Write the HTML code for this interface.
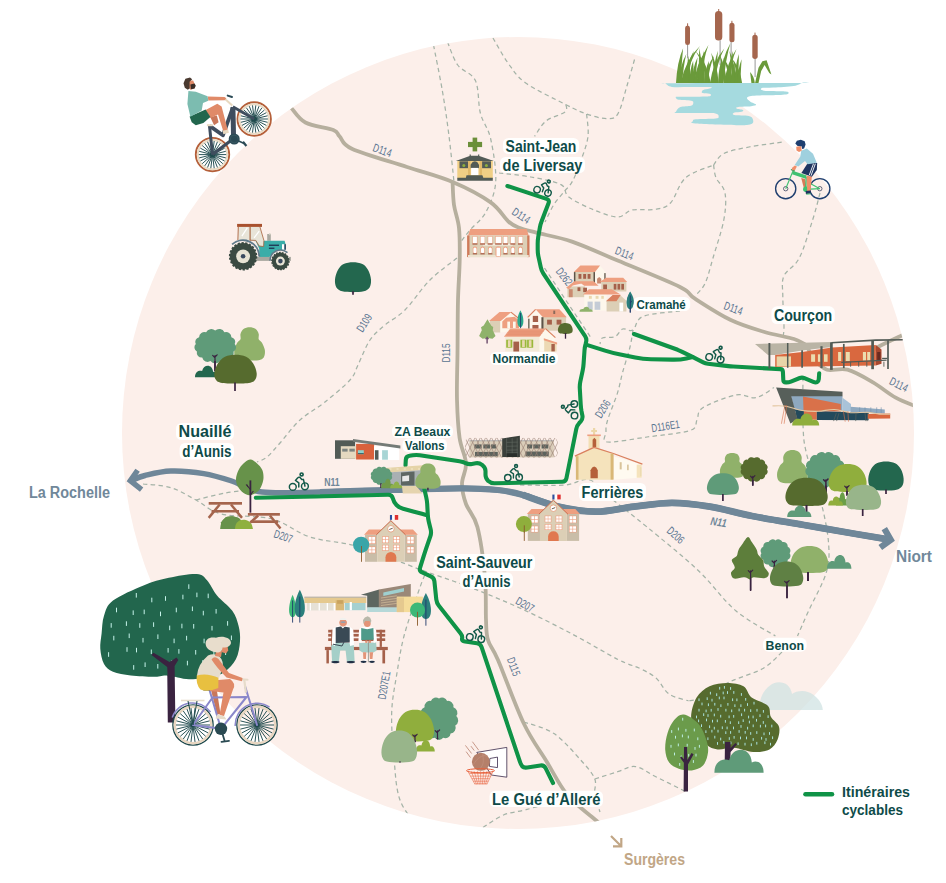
<!DOCTYPE html>
<html lang="fr"><head><meta charset="utf-8"><title>Itinéraires cyclables</title>
<style>
html,body{margin:0;padding:0;background:#fff}
body{width:946px;height:883px;overflow:hidden}
svg{display:block;font-family:"Liberation Sans", sans-serif}
</style></head><body>
<svg width="946" height="883" viewBox="0 0 946 883">
<defs><clipPath id="cc"><circle cx="518" cy="433" r="396"/></clipPath></defs>
<circle cx="518" cy="433" r="396" fill="#fcefea"/>
<g clip-path="url(#cc)">
<path d="M433.5,45.0 C435.0,52.7 439.8,75.8 442.4,91.0 C445.0,106.2 447.1,120.8 449.0,136.0 C450.9,151.2 453.2,174.3 454.0,182.0" fill="none" stroke="#a4b3a7" stroke-width="1.25" stroke-dasharray="4.4 3.4"/>
<path d="M447.5,42.0 C449.2,45.8 453.1,58.6 457.7,65.0 C462.3,71.4 471.6,72.5 475.4,80.6 C479.2,88.7 477.9,103.9 480.5,113.6 C483.1,123.3 488.2,127.6 490.7,139.0 C493.2,150.4 496.5,169.7 495.7,182.0 C494.9,194.3 489.9,204.6 485.6,212.6 C481.3,220.6 474.3,224.9 470.0,230.0 C465.7,235.1 461.7,240.8 460.0,243.0" fill="none" stroke="#a4b3a7" stroke-width="1.25" stroke-dasharray="4.4 3.4"/>
<path d="M493.0,38.0 C495.5,42.2 502.6,55.5 508.0,63.0 C513.5,70.5 516.0,76.0 525.7,83.0 C535.4,90.0 555.9,99.5 566.0,104.7 C576.1,109.9 579.8,111.7 586.6,114.0 C593.4,116.3 601.8,118.8 607.0,118.7 C612.2,118.6 614.7,119.1 618.0,113.6 C621.3,108.1 624.2,95.0 627.0,85.7 C629.8,76.4 633.7,62.4 635.0,57.8" fill="none" stroke="#a4b3a7" stroke-width="1.25" stroke-dasharray="4.4 3.4"/>
<path d="M566.0,104.7 C565.8,105.9 568.3,109.3 565.0,112.0 C561.7,114.7 551.1,116.9 546.0,121.0 C540.9,125.1 536.5,133.8 534.6,136.4" fill="none" stroke="#a4b3a7" stroke-width="1.25" stroke-dasharray="4.4 3.4"/>
<path d="M586.6,114.0 C586.8,117.7 588.9,128.9 588.0,136.4 C587.1,143.9 584.1,151.6 581.5,159.0 C578.9,166.4 575.6,175.5 572.6,181.0 C569.6,186.5 567.0,188.0 563.8,192.0 C560.6,196.0 556.7,200.0 553.6,205.0 C550.5,210.0 546.4,219.2 545.0,222.0" fill="none" stroke="#a4b3a7" stroke-width="1.25" stroke-dasharray="4.4 3.4"/>
<path d="M499.0,173.0 C504.3,173.7 520.7,175.1 531.0,177.0 C541.3,178.9 554.7,181.3 561.0,184.6 C567.3,187.9 563.3,192.8 568.8,197.0 C574.3,201.2 585.8,206.7 594.0,210.0 C602.2,213.3 611.7,217.0 618.0,217.0 C624.3,217.0 625.8,211.3 632.0,210.0 C638.2,208.7 648.6,210.6 655.0,209.4 C661.4,208.2 665.4,208.3 670.5,203.0 C675.6,197.7 678.5,184.0 685.7,177.7 C692.9,171.4 709.0,167.1 713.6,165.0" fill="none" stroke="#a4b3a7" stroke-width="1.25" stroke-dasharray="4.4 3.4"/>
<path d="M713.6,165.0 C715.3,163.1 717.9,156.5 723.8,153.5 C729.7,150.5 739.1,148.9 749.0,147.0 C758.9,145.1 777.7,142.8 783.4,142.0" fill="none" stroke="#a4b3a7" stroke-width="1.25" stroke-dasharray="4.4 3.4"/>
<path d="M713.6,165.0 C714.0,167.1 714.1,173.0 716.0,177.7 C717.9,182.4 723.7,185.9 725.0,193.0 C726.3,200.1 725.8,209.2 723.8,220.0 C721.8,230.8 716.1,247.4 713.0,258.0 C709.9,268.6 708.0,277.2 705.0,283.5 C702.0,289.8 696.7,293.9 695.0,296.0" fill="none" stroke="#a4b3a7" stroke-width="1.25" stroke-dasharray="4.4 3.4"/>
<path d="M820.0,193.0 C818.8,197.5 816.1,209.2 812.6,220.0 C809.1,230.8 804.1,248.7 799.3,258.0 C794.5,267.3 786.8,269.5 784.0,275.8 C781.2,282.1 782.8,287.5 782.8,296.0 C782.8,304.5 784.0,319.6 784.0,326.6 C784.0,333.6 783.0,336.1 782.8,338.0" fill="none" stroke="#a4b3a7" stroke-width="1.25" stroke-dasharray="4.4 3.4"/>
<path d="M544.5,268.0 L567.0,302.0 L590.5,337.0" fill="none" stroke="#a4b3a7" stroke-width="1.25" stroke-dasharray="4.4 3.4"/>
<path d="M457.0,258.0 C452.5,261.7 438.7,271.3 430.0,280.0 C421.3,288.7 412.5,302.5 405.0,310.0 C397.5,317.5 390.8,320.0 385.0,325.0 C379.2,330.0 374.5,333.3 370.0,340.0 C365.5,346.7 361.3,358.3 358.0,365.0 C354.7,371.7 355.5,373.8 350.0,380.0 C344.5,386.2 333.3,395.3 325.0,402.0 C316.7,408.7 307.5,413.2 300.0,420.0 C292.5,426.8 285.5,436.8 280.0,443.0 C274.5,449.2 270.8,453.8 267.0,457.0 C263.2,460.2 258.7,461.2 257.0,462.0" fill="none" stroke="#a4b3a7" stroke-width="1.25" stroke-dasharray="4.4 3.4"/>
<path d="M143.0,484.0 C147.6,484.6 162.0,484.9 170.8,487.6 C179.6,490.3 187.6,495.6 196.0,500.0 C204.4,504.4 208.8,510.8 221.5,514.0 C234.2,517.2 257.2,515.2 272.0,519.0 C286.8,522.8 295.3,532.3 310.0,537.0 C324.7,541.7 341.4,541.5 360.0,547.0 C378.6,552.5 402.8,563.2 421.5,570.0 C440.2,576.8 455.1,581.4 472.0,588.0 C488.9,594.6 506.2,601.8 523.0,609.5 C539.8,617.2 557.2,626.2 573.0,634.5 C588.8,642.8 606.8,653.8 618.0,659.5 C629.2,665.2 633.7,665.4 640.0,668.5 C646.3,671.6 651.2,673.8 656.0,678.0 C660.8,682.2 663.6,690.2 669.0,694.0 C674.4,697.8 685.2,699.8 688.5,700.9" fill="none" stroke="#a4b3a7" stroke-width="1.25" stroke-dasharray="4.4 3.4"/>
<path d="M196.0,500.0 C200.8,498.8 215.7,494.7 225.0,493.0 C234.3,491.3 247.5,490.5 252.0,490.0" fill="none" stroke="#a4b3a7" stroke-width="1.25" stroke-dasharray="4.4 3.4"/>
<path d="M680.0,311.0 C673.8,311.9 650.8,313.2 643.0,316.4 C635.2,319.6 636.4,327.9 633.0,330.0 C629.6,332.1 625.7,327.9 622.7,329.0 C619.7,330.1 618.4,335.2 615.0,336.7 C611.6,338.2 604.9,336.8 602.4,338.0 C599.9,339.2 600.4,343.0 600.0,344.0" fill="none" stroke="#a4b3a7" stroke-width="1.25" stroke-dasharray="4.4 3.4"/>
<path d="M633.0,330.0 C632.5,332.8 631.7,340.0 630.0,347.0 C628.3,354.0 624.8,364.4 622.7,372.0 C620.6,379.6 620.1,384.5 617.6,392.6 C615.1,400.7 609.4,413.9 607.5,420.5 C605.6,427.1 606.0,428.4 606.0,432.0 C606.0,435.6 600.8,441.2 607.6,442.0 C614.4,442.8 633.3,438.9 647.0,437.0 C660.7,435.1 681.7,433.3 690.0,430.5 C698.3,427.7 694.9,423.8 697.0,420.0 C699.1,416.2 696.3,412.0 702.8,407.8 C709.3,403.6 726.9,396.7 735.8,395.0 C744.7,393.3 749.6,398.9 756.0,397.7 C762.4,396.4 771.0,389.2 774.0,387.5" fill="none" stroke="#a4b3a7" stroke-width="1.25" stroke-dasharray="4.4 3.4"/>
<path d="M803.0,377.0 C803.0,385.0 802.4,412.2 803.0,425.0 C803.6,437.8 803.4,440.5 806.6,454.0 C809.8,467.5 818.3,490.8 822.0,506.0 C825.7,521.2 828.0,533.8 828.7,545.0 C829.4,556.2 829.3,562.6 826.0,573.4 C822.7,584.2 813.8,599.6 809.0,610.0 C804.2,620.4 799.4,631.7 797.5,636.0" fill="none" stroke="#a4b3a7" stroke-width="1.25" stroke-dasharray="4.4 3.4"/>
<path d="M520.0,485.0 C527.5,485.0 553.3,485.8 565.0,485.0 C576.7,484.2 581.7,477.2 590.0,480.0 C598.3,482.8 605.5,493.7 615.0,501.5 C624.5,509.3 633.2,515.6 647.0,527.0 C660.8,538.4 682.9,556.0 697.7,570.0 C712.5,584.0 722.8,599.7 735.8,610.7 C748.8,621.7 768.8,631.8 775.4,636.0" fill="none" stroke="#a4b3a7" stroke-width="1.25" stroke-dasharray="4.4 3.4"/>
<path d="M782.0,652.0 C778.8,654.8 771.6,663.6 763.0,668.5 C754.4,673.4 741.1,676.6 730.6,681.5 C720.1,686.4 707.0,694.8 700.0,698.0 C693.0,701.2 690.4,700.4 688.5,700.9" fill="none" stroke="#a4b3a7" stroke-width="1.25" stroke-dasharray="4.4 3.4"/>
<path d="M523.8,722.0 C528.8,723.9 544.3,727.0 554.0,733.6 C563.7,740.2 575.2,753.9 582.0,761.5 C588.8,769.1 592.7,773.5 594.8,779.0 C596.9,784.5 593.9,789.0 594.8,794.5 C595.7,800.0 599.1,809.1 600.0,812.0" fill="none" stroke="#a4b3a7" stroke-width="1.25" stroke-dasharray="4.4 3.4"/>
<path d="M594.8,779.0 C598.6,777.8 610.9,773.8 617.7,771.7 C624.5,769.6 629.0,765.8 635.4,766.6 C641.8,767.4 648.0,772.8 655.8,776.7 C663.6,780.6 674.6,785.9 682.0,789.8 C689.4,793.7 697.0,798.3 700.0,800.0" fill="none" stroke="#a4b3a7" stroke-width="1.25" stroke-dasharray="4.4 3.4"/>
<path d="M483.0,827.5 C486.4,825.4 496.3,818.0 503.5,815.0 C510.7,812.0 516.6,812.2 526.0,809.7 C535.4,807.2 554.3,801.6 560.0,800.0" fill="none" stroke="#a4b3a7" stroke-width="1.25" stroke-dasharray="4.4 3.4"/>
<path d="M424.7,575.0 C423.6,578.0 421.4,582.8 418.0,593.0 C414.6,603.2 407.5,622.5 404.0,636.0 C400.5,649.5 398.9,661.3 396.8,674.0 C394.8,686.7 392.2,698.0 391.7,712.0 C391.2,726.0 392.6,743.3 394.0,758.0 C395.4,772.7 395.7,788.0 400.0,800.0 C404.3,812.0 416.7,825.0 420.0,830.0" fill="none" stroke="#a4b3a7" stroke-width="1.25" stroke-dasharray="4.4 3.4"/>
<path d="M291.4,108.0 C293.7,110.4 298.4,118.8 305.4,122.5 C312.4,126.2 327.6,127.7 333.3,130.0 C339.0,132.3 336.4,133.2 339.6,136.4 C342.8,139.6 341.1,143.9 352.3,149.0 C363.5,154.1 390.3,161.5 407.0,167.0 C423.7,172.5 438.7,176.1 452.6,182.0 C466.6,187.9 481.4,195.8 490.7,202.4 C500.0,209.0 503.5,217.2 508.4,221.5 C513.3,225.8 515.3,226.1 520.0,228.0 C524.7,229.9 527.7,230.4 536.4,232.7 C545.1,235.0 558.5,236.9 572.0,241.6 C585.5,246.2 599.7,253.0 617.7,260.6 C635.7,268.2 667.1,280.6 680.0,287.0 C692.9,293.4 686.5,293.2 695.0,298.7 C703.5,304.2 719.3,314.5 730.8,320.0 C742.3,325.5 753.3,328.5 763.8,331.7 C774.3,334.9 787.0,336.8 794.0,339.0 C801.0,341.2 804.0,344.0 806.0,345.0" fill="none" stroke="#b6af9e" stroke-width="3.8" stroke-linecap="butt" stroke-linejoin="round"/>
<path d="M806.0,345.0 C807.5,347.5 811.5,355.9 815.0,360.0 C818.5,364.1 821.6,368.1 827.0,369.7 C832.4,371.3 839.8,367.6 847.5,369.7 C855.2,371.8 865.0,377.7 873.0,382.4 C881.0,387.1 888.7,393.8 895.7,397.7 C902.7,401.6 911.8,404.6 915.0,406.0" fill="none" stroke="#b6af9e" stroke-width="3.8" stroke-linecap="butt" stroke-linejoin="round"/>
<path d="M860.0,358.0 C863.0,356.2 870.5,351.0 878.0,347.0 C885.5,343.0 900.5,336.2 905.0,334.0" fill="none" stroke="#b6af9e" stroke-width="3.8" stroke-linecap="butt" stroke-linejoin="round"/>
<path d="M452.6,182.0 C452.8,185.8 452.9,197.3 454.0,205.0 C455.1,212.7 458.1,218.8 459.0,228.0 C459.9,237.2 459.9,248.0 459.7,260.0 C459.5,272.0 458.4,284.5 458.0,300.0 C457.6,315.5 457.7,336.3 457.5,353.0 C457.3,369.7 456.6,385.8 457.0,400.0 C457.4,414.2 458.1,427.4 459.6,438.0 C461.1,448.6 465.6,455.9 466.0,463.5 C466.4,471.1 462.0,477.1 462.0,483.8 C462.0,490.6 463.4,496.8 466.0,504.0 C468.6,511.2 474.2,514.7 477.4,527.0 C480.6,539.3 483.6,562.2 485.0,577.7 C486.4,593.2 485.5,609.6 486.0,620.0 C486.5,630.4 486.0,633.3 488.0,640.0 C490.0,646.7 492.0,646.1 498.0,660.0 C504.0,673.9 515.7,706.6 523.8,723.5 C531.9,740.4 539.4,749.7 546.6,761.5 C553.8,773.3 559.4,785.2 567.0,794.5 C574.6,803.8 586.0,811.8 592.0,817.0 C598.0,822.2 601.2,824.5 603.0,826.0" fill="none" stroke="#b6af9e" stroke-width="3.8" stroke-linecap="butt" stroke-linejoin="round"/>
<path d="M131.5,480.5 C133.8,479.7 138.4,477.1 145.0,475.5 C151.6,473.9 161.0,471.3 170.8,471.0 C180.6,470.7 193.7,471.9 203.8,473.6 C214.0,475.3 222.0,477.9 231.7,481.0 C241.4,484.1 247.3,490.2 262.0,492.0 C276.7,493.8 298.5,492.3 320.0,492.0 C341.5,491.7 367.3,490.6 391.0,490.0 C414.7,489.4 444.2,488.3 462.0,488.3 C479.8,488.3 487.5,488.9 497.7,490.0 C507.9,491.1 513.0,492.2 523.0,495.0 C533.0,497.8 545.8,503.8 558.0,506.6 C570.2,509.4 583.3,511.7 596.0,511.7 C608.7,511.7 621.3,508.1 634.0,506.6 C646.7,505.1 659.3,502.8 672.0,502.8 C684.7,502.8 696.7,504.4 710.0,506.6 C723.3,508.8 736.3,512.9 752.0,516.0 C767.7,519.1 786.7,522.0 804.0,525.0 C821.3,528.0 841.8,531.6 856.0,534.0 C870.2,536.4 883.9,538.7 889.5,539.6" fill="none" stroke="#6f8799" stroke-width="5.5" stroke-linecap="butt" stroke-linejoin="round"/>
<path d="M320.0,492.0 C331.8,491.7 367.3,490.6 391.0,490.0 C414.7,489.4 444.2,488.3 462.0,488.3 C479.8,488.3 487.5,488.9 497.7,490.0 C507.9,491.1 513.0,492.2 523.0,495.0 C533.0,497.8 545.8,503.8 558.0,506.6 C570.2,509.4 583.3,511.7 596.0,511.7 C608.7,511.7 621.3,508.1 634.0,506.6 C646.7,505.1 659.3,502.8 672.0,502.8 C684.7,502.8 696.7,504.4 710.0,506.6 C723.3,508.8 736.3,512.9 752.0,516.0 C767.7,519.1 786.7,522.0 804.0,525.0 C821.3,528.0 841.8,531.6 856.0,534.0 C870.2,536.4 883.9,538.7 889.5,539.6" fill="none" stroke="#6f8799" stroke-width="6.2" stroke-linecap="butt" stroke-linejoin="round"/>
<path d="M523.0,495.0 C528.8,496.9 545.8,503.8 558.0,506.6 C570.2,509.4 583.3,511.7 596.0,511.7 C608.7,511.7 621.3,508.1 634.0,506.6 C646.7,505.1 659.3,502.8 672.0,502.8 C684.7,502.8 696.7,504.4 710.0,506.6 C723.3,508.8 736.3,512.9 752.0,516.0 C767.7,519.1 786.7,522.0 804.0,525.0 C821.3,528.0 841.8,531.6 856.0,534.0 C870.2,536.4 883.9,538.7 889.5,539.6" fill="none" stroke="#6f8799" stroke-width="6.8" stroke-linecap="butt" stroke-linejoin="round"/>
<path d="M137.6,470.2 L130.3,480.6 L141.6,489.6" fill="none" stroke="#6f8799" stroke-width="5.4" stroke-linejoin="miter"/>
<path d="M884.3,528.6 L890.8,539.8 L880.3,547.4" fill="none" stroke="#6f8799" stroke-width="6.2" stroke-linejoin="miter"/>
<path d="M507.4,186.0 L546.5,198.9 Q549.8,200.0 548.5,203.3 L541.8,220.7 Q540.5,224.0 539.9,227.4 L538.3,236.6 Q537.7,240.0 537.7,243.5 L537.7,249.5 Q537.7,253.0 538.4,256.4 L540.8,267.4 Q541.5,270.8 543.4,273.7 L585.1,336.1 Q587.0,339.0 586.0,342.4 L585.7,343.6 Q584.7,347.0 584.5,350.5 L583.6,363.5 Q583.4,367.0 582.7,370.4 L580.3,381.6 Q579.6,385.0 579.8,388.5 L580.7,404.3 Q580.9,407.8 581.5,411.2 L582.4,415.6 Q583.0,419.0 580.6,421.6 L579.4,422.8 Q577.0,425.4 576.3,428.8 L566.4,478.3 Q565.7,481.7 562.2,481.8 L494.5,483.3 Q491.0,483.4 488.4,481.0 L488.2,480.9 Q485.6,478.5 485.5,475.0 L485.5,471.0 Q485.4,467.5 482.6,465.4 L482.0,464.8 Q479.2,462.7 475.7,463.3 L471.9,463.9 Q468.4,464.5 465.7,463.1 L465.7,463.2 Q463.0,461.8 459.5,461.3 L419.8,455.2 Q416.3,454.7 412.8,455.2 L409.5,455.8 Q406.0,456.3 405.8,459.8 L405.5,465.4" fill="none" stroke="#0f9347" stroke-width="4.1" stroke-linecap="round" stroke-linejoin="round"/>
<path d="M586.0,344.6 L605.0,350.6 Q612.6,353.0 620.4,354.5 L635.2,357.5 Q643.0,359.0 651.0,359.2 L672.0,359.6 Q680.0,359.8 686.4,358.4 L692.7,357.0" fill="none" stroke="#0f9347" stroke-width="4.1" stroke-linecap="round" stroke-linejoin="round"/>
<path d="M634.0,334.0 L677.7,349.8 Q680.0,350.7 682.2,351.8 L690.5,355.9 Q692.7,357.0 694.9,358.1 L703.2,362.3 Q705.4,363.4 707.9,363.7 L728.3,366.1 Q730.8,366.4 733.3,366.5 L766.3,368.4 Q768.8,368.5 771.3,368.6 L780.3,369.1 Q782.8,369.2 782.9,371.7 L783.3,379.8 Q783.4,382.3 785.9,382.4 L786.1,382.4 Q788.6,382.5 790.9,381.6 L799.8,378.0 Q802.1,377.1 804.4,378.1 L813.3,381.9 Q815.6,382.9 817.1,382.2 L817.1,382.2 Q818.6,381.5 818.8,379.0 L819.2,373.2" fill="none" stroke="#0f9347" stroke-width="4.1" stroke-linecap="round" stroke-linejoin="round"/>
<path d="M255.8,497.7 L316.0,496.5 Q320.0,496.4 324.0,496.3 L388.0,494.7 Q392.0,494.6 392.9,498.5 L392.9,498.5 Q393.8,502.3 396.5,505.0 L396.5,505.0 Q399.2,507.7 403.1,508.7 L414.1,511.7 Q418.0,512.7 421.9,513.8 L427.0,515.2" fill="none" stroke="#0f9347" stroke-width="4.1" stroke-linecap="round" stroke-linejoin="round"/>
<path d="M424.3,488.8 L426.2,497.1 Q427.0,500.5 427.2,504.0 L427.8,514.9 Q428.0,518.4 428.8,521.8 L430.7,529.4 Q431.5,532.8 430.4,536.1 L426.1,548.7 Q425.0,552.0 423.9,555.3 L420.1,567.7 Q419.0,571.0 422.2,572.4 L430.8,576.3 Q434.0,577.7 434.4,581.2 L436.3,599.5 Q436.7,603.0 438.9,605.7 L460.5,633.3 Q462.7,636.0 462.1,638.5 L462.1,638.5 Q461.5,641.0 465.0,641.5 L477.0,643.3 Q480.5,643.8 481.6,647.1 L519.9,761.7 Q521.0,765.0 522.4,766.5 L522.4,766.5 Q523.8,768.0 527.3,767.5 L540.5,765.5 Q544.0,765.0 545.6,768.1 L553.0,783.0" fill="none" stroke="#0f9347" stroke-width="4.1" stroke-linecap="round" stroke-linejoin="round"/>
</g>
<path d="M353.0,262.2 C356.1,262.2 359.8,262.7 362.4,264.0 C364.9,265.3 366.7,267.4 368.1,270.0 C369.6,272.6 370.8,276.7 371.0,279.6 C371.2,282.5 370.8,285.4 369.6,287.4 C368.4,289.3 366.6,290.5 363.8,291.3 C361.0,292.1 356.6,292.2 353.0,292.2 C349.4,292.2 345.0,292.1 342.2,291.3 C339.4,290.5 337.6,289.3 336.4,287.4 C335.2,285.4 334.8,282.5 335.0,279.6 C335.2,276.7 336.4,272.6 337.9,270.0 C339.3,267.4 341.1,265.3 343.6,264.0 C346.2,262.7 349.9,262.2 353.0,262.2Z" fill="#23674e"/>
<path d="M353.0,291.2 V294.8" stroke="#3a2340" stroke-width="1.7"/>
<path d="M249.6,327.2 C251.6,327.2 254.2,327.8 255.7,328.9 C257.2,330.0 258.2,332.1 258.7,333.9 C259.2,335.6 258.2,337.7 258.7,339.2 C259.2,340.6 260.7,340.7 261.8,342.5 C262.8,344.3 264.4,347.4 264.8,349.8 C265.2,352.3 264.9,355.4 263.9,357.2 C262.9,358.9 261.1,359.6 258.7,360.2 C256.3,360.7 252.6,360.5 249.6,360.5 C246.6,360.5 242.9,360.7 240.5,360.2 C238.1,359.6 236.3,358.9 235.3,357.2 C234.3,355.4 234.0,352.3 234.4,349.8 C234.8,347.4 236.4,344.3 237.4,342.5 C238.5,340.7 240.0,340.6 240.5,339.2 C241.0,337.7 240.0,335.6 240.5,333.9 C241.0,332.1 242.0,330.0 243.5,328.9 C245.0,327.8 247.6,327.2 249.6,327.2Z" fill="#90b16a"/>
<path d="M248.0,359.5 V362.5" stroke="#3a2340" stroke-width="1.7"/>
<path d="M215.2,330.5 A5.8,5.8 0 0 1 224.4,332.3 A5.3,5.3 0 0 1 231.4,337.2 A4.8,4.8 0 0 1 234.7,344.1 A4.6,4.6 0 0 1 233.6,351.5 A5.0,5.0 0 0 1 228.3,357.6 A5.6,5.6 0 0 1 220.0,361.1 A5.8,5.8 0 0 1 210.5,361.1 A5.6,5.6 0 0 1 202.2,357.6 A5.0,5.0 0 0 1 196.9,351.5 A4.6,4.6 0 0 1 195.8,344.1 A4.8,4.8 0 0 1 199.1,337.2 A5.3,5.3 0 0 1 206.1,332.3 A5.8,5.8 0 0 1 215.2,330.5Z" fill="#5f9b79"/>
<path d="M215.0,355.6 V371.0 M215.0,357.8 l-2.3,-2.4 M215.0,357.0 l2.1,-2.2" stroke="#3a2340" stroke-width="1.2" fill="none" stroke-linecap="round"/>
<path d="M215.0,361.0 V371.0" stroke="#3a2340" stroke-width="1.7"/>
<path d="M195.0,377.2 C195.0,370.9 199.8,370.1 202.1,371.1 C203.6,363.9 212.6,363.9 213.1,372.1 C215.9,370.9 218.8,372.6 218.8,377.2 Z" fill="#23674e"/>
<path d="M235.5,354.8 C239.0,354.8 243.1,355.4 246.1,356.8 C249.0,358.3 251.5,360.8 253.2,363.4 C255.0,366.1 256.2,370.0 256.6,372.7 C257.0,375.3 256.4,377.9 255.3,379.6 C254.3,381.2 253.6,382.1 250.3,382.7 C247.0,383.4 240.4,383.6 235.5,383.6 C230.6,383.6 224.0,383.4 220.7,382.7 C217.4,382.1 216.7,381.2 215.7,379.6 C214.6,377.9 214.0,375.3 214.4,372.7 C214.8,370.0 216.0,366.1 217.8,363.4 C219.5,360.8 222.0,358.3 225.0,356.8 C227.9,355.4 232.0,354.8 235.5,354.8Z" fill="#566b2e"/>
<path d="M235.0,382.6 V391.0" stroke="#3a2340" stroke-width="1.7"/>
<path d="M732.2,452.9 C733.8,452.9 735.9,453.3 737.1,454.1 C738.3,455.0 739.1,456.6 739.5,457.9 C739.9,459.1 739.1,460.8 739.5,461.8 C739.9,462.9 741.1,463.0 742.0,464.3 C742.8,465.6 744.1,467.9 744.4,469.8 C744.7,471.6 744.5,473.9 743.7,475.2 C742.9,476.5 741.4,477.0 739.5,477.5 C737.6,477.9 734.6,477.7 732.2,477.7 C729.8,477.7 726.8,477.9 724.9,477.5 C723.0,477.0 721.5,476.5 720.7,475.2 C719.9,473.9 719.7,471.6 720.0,469.8 C720.3,467.9 721.6,465.6 722.4,464.3 C723.3,463.0 724.5,462.9 724.9,461.8 C725.3,460.8 724.5,459.1 724.9,457.9 C725.3,456.6 726.1,455.0 727.3,454.1 C728.5,453.3 730.6,452.9 732.2,452.9Z" fill="#90b16a"/>
<path d="M732.0,476.7 V480.0" stroke="#3a2340" stroke-width="1.7"/>
<path d="M754.1,458.1 A4.1,4.1 0 0 1 760.5,459.7 A3.9,3.9 0 0 1 765.2,463.8 A3.6,3.6 0 0 1 766.9,469.4 A3.6,3.6 0 0 1 765.2,475.0 A3.9,3.9 0 0 1 760.5,479.1 A4.1,4.1 0 0 1 754.1,480.7 A4.1,4.1 0 0 1 747.8,479.1 A3.9,3.9 0 0 1 743.1,475.0 A3.6,3.6 0 0 1 741.4,469.4 A3.6,3.6 0 0 1 743.1,463.8 A3.9,3.9 0 0 1 747.8,459.7 A4.1,4.1 0 0 1 754.1,458.1Z" fill="#566b2e"/>
<path d="M752.8,476.4 V485.5 M752.8,478.6 l-2.3,-2.4 M752.8,477.8 l2.1,-2.2" stroke="#3a2340" stroke-width="1.2" fill="none" stroke-linecap="round"/>
<path d="M752.8,480.0 V485.5" stroke="#3a2340" stroke-width="1.7"/>
<path d="M722.9,473.3 C725.5,473.3 728.6,473.7 730.8,474.8 C733.1,475.9 734.9,477.8 736.3,479.8 C737.6,481.8 738.5,484.7 738.8,486.8 C739.1,488.8 738.6,490.7 737.8,492.0 C737.1,493.2 736.5,493.8 734.0,494.3 C731.5,494.9 726.6,495.0 722.9,495.0 C719.2,495.0 714.3,494.9 711.8,494.3 C709.3,493.8 708.7,493.2 708.0,492.0 C707.2,490.7 706.7,488.8 707.0,486.8 C707.3,484.7 708.2,481.8 709.5,479.8 C710.9,477.8 712.7,475.9 715.0,474.8 C717.2,473.7 720.2,473.3 722.9,473.3Z" fill="#5f9b79"/>
<path d="M722.9,494.0 V501.0" stroke="#3a2340" stroke-width="1.7"/>
<path d="M792.5,450.0 C794.5,450.0 797.0,450.6 798.6,451.7 C800.1,452.8 801.1,454.9 801.6,456.7 C802.1,458.4 801.1,460.5 801.6,462.0 C802.1,463.4 803.6,463.5 804.7,465.3 C805.7,467.1 807.3,470.2 807.7,472.6 C808.1,475.1 807.8,478.2 806.8,480.0 C805.8,481.7 804.0,482.4 801.6,483.0 C799.2,483.5 795.5,483.3 792.5,483.3 C789.4,483.3 785.7,483.5 783.3,483.0 C780.9,482.4 779.1,481.7 778.1,480.0 C777.1,478.2 776.8,475.1 777.2,472.6 C777.6,470.2 779.2,467.1 780.2,465.3 C781.3,463.5 782.8,463.4 783.3,462.0 C783.8,460.5 782.8,458.4 783.3,456.7 C783.8,454.9 784.8,452.8 786.4,451.7 C787.9,450.6 790.4,450.0 792.5,450.0Z" fill="#90b16a"/>
<path d="M794.0,482.3 V486.0" stroke="#3a2340" stroke-width="1.7"/>
<path d="M825.1,453.4 A5.5,5.5 0 0 1 833.8,455.3 A5.2,5.2 0 0 1 840.4,460.5 A4.9,4.9 0 0 1 843.6,467.8 A4.9,4.9 0 0 1 842.5,475.5 A5.1,5.1 0 0 1 837.5,482.0 A5.4,5.4 0 0 1 829.6,485.6 A5.5,5.5 0 0 1 820.7,485.6 A5.4,5.4 0 0 1 812.8,482.0 A5.1,5.1 0 0 1 807.8,475.5 A4.9,4.9 0 0 1 806.7,467.8 A4.9,4.9 0 0 1 809.9,460.5 A5.2,5.2 0 0 1 816.5,455.3 A5.5,5.5 0 0 1 825.1,453.4Z" fill="#5f9b79"/>
<path d="M825.9,479.9 V492.8 M825.9,482.1 l-2.3,-2.4 M825.9,481.3 l2.1,-2.2" stroke="#3a2340" stroke-width="1.5" fill="none" stroke-linecap="round"/>
<path d="M825.9,485.6 V492.8" stroke="#3a2340" stroke-width="2.2"/>
<path d="M886.0,461.5 C889.0,461.5 892.7,462.0 895.1,463.2 C897.6,464.5 899.4,466.5 900.8,469.1 C902.2,471.6 903.4,475.6 903.6,478.4 C903.8,481.2 903.4,484.1 902.2,485.9 C901.0,487.8 899.2,489.0 896.5,489.7 C893.8,490.5 889.5,490.6 886.0,490.6 C882.4,490.6 878.1,490.5 875.4,489.7 C872.7,489.0 870.9,487.8 869.7,485.9 C868.5,484.1 868.1,481.2 868.3,478.4 C868.5,475.6 869.7,471.6 871.1,469.1 C872.5,466.5 874.3,464.5 876.8,463.2 C879.2,462.0 882.9,461.5 886.0,461.5Z" fill="#23674e"/>
<path d="M886.0,489.6 V494.0" stroke="#3a2340" stroke-width="1.7"/>
<path d="M847.6,464.0 C850.8,464.0 854.4,464.6 857.0,466.0 C859.7,467.4 861.9,469.8 863.5,472.4 C865.1,475.0 866.2,478.7 866.5,481.4 C866.8,484.0 866.3,486.4 865.4,488.1 C864.4,489.7 863.8,490.5 860.8,491.2 C857.9,491.8 852.0,492.0 847.6,492.0 C843.2,492.0 837.3,491.8 834.4,491.2 C831.4,490.5 830.8,489.7 829.8,488.1 C828.9,486.4 828.4,484.0 828.7,481.4 C829.0,478.7 830.1,475.0 831.7,472.4 C833.3,469.8 835.5,467.4 838.2,466.0 C840.8,464.6 844.5,464.0 847.6,464.0Z" fill="#90ae3d"/>
<path d="M847.0,486.4 V495.5 M847.0,488.6 l-2.3,-2.4 M847.0,487.8 l2.1,-2.2" stroke="#3a2340" stroke-width="1.2" fill="none" stroke-linecap="round"/>
<path d="M847.0,491.0 V495.5" stroke="#3a2340" stroke-width="1.7"/>
<path d="M836.0,505.5 C836.0,498.1 838.4,497.1 839.6,498.3 C840.3,489.9 844.9,489.9 845.1,499.5 C846.6,498.1 848.0,500.1 848.0,505.5 Z" fill="#6a9f48"/>
<path d="M828.3,505.5 C828.3,500.5 831.2,499.9 832.7,500.7 C833.6,495.1 839.2,495.1 839.5,501.5 C841.2,500.5 843.0,501.9 843.0,505.5 Z" fill="#90ae3d"/>
<path d="M863.5,484.8 C866.4,484.8 869.8,485.3 872.2,486.6 C874.7,487.8 876.7,490.1 878.2,492.4 C879.7,494.7 880.7,498.1 881.0,500.4 C881.3,502.8 880.8,505.0 880.0,506.5 C879.1,507.9 878.5,508.7 875.8,509.2 C873.0,509.8 867.6,510.0 863.5,510.0 C859.4,510.0 854.0,509.8 851.2,509.2 C848.5,508.7 847.9,507.9 847.0,506.5 C846.2,505.0 845.7,502.8 846.0,500.4 C846.3,498.1 847.3,494.7 848.8,492.4 C850.3,490.1 852.3,487.8 854.8,486.6 C857.2,485.3 860.6,484.8 863.5,484.8Z" fill="#98b58a"/>
<path d="M862.7,509.0 V516.0" stroke="#3a2340" stroke-width="1.7"/>
<path d="M806.5,477.7 C810.1,477.7 814.1,478.3 817.1,479.7 C820.0,481.1 822.5,483.6 824.2,486.2 C826.0,488.8 827.2,492.6 827.6,495.2 C828.0,497.9 827.4,500.4 826.3,502.0 C825.3,503.7 824.6,504.5 821.3,505.2 C818.0,505.8 811.5,506.0 806.5,506.0 C801.6,506.0 795.1,505.8 791.8,505.2 C788.5,504.5 787.8,503.7 786.8,502.0 C785.7,500.4 785.1,497.9 785.5,495.2 C785.9,492.6 787.1,488.8 788.9,486.2 C790.6,483.6 793.1,481.1 796.0,479.7 C799.0,478.3 803.0,477.7 806.5,477.7Z" fill="#566b2e"/>
<path d="M806.5,505.0 V512.0" stroke="#3a2340" stroke-width="2.0"/>
<path d="M787.2,517.0 C787.2,510.6 792.0,509.7 794.5,510.8 C795.9,503.5 805.1,503.5 805.6,511.8 C808.5,510.6 811.4,512.3 811.4,517.0 Z" fill="#5f9b79"/>
<path d="M775.5,540.4 A4.5,4.5 0 0 1 782.5,542.1 A4.3,4.3 0 0 1 787.7,546.8 A4.2,4.2 0 0 1 789.6,553.2 A4.2,4.2 0 0 1 787.7,559.7 A4.3,4.3 0 0 1 782.5,564.4 A4.5,4.5 0 0 1 775.5,566.1 A4.5,4.5 0 0 1 768.5,564.4 A4.3,4.3 0 0 1 763.3,559.7 A4.2,4.2 0 0 1 761.4,553.2 A4.2,4.2 0 0 1 763.3,546.8 A4.3,4.3 0 0 1 768.5,542.1 A4.5,4.5 0 0 1 775.5,540.4Z" fill="#5f9b79"/>
<path d="M774.4,561.2 V571.0 M774.4,563.4 l-2.3,-2.4 M774.4,562.6 l2.1,-2.2" stroke="#3a2340" stroke-width="1.2" fill="none" stroke-linecap="round"/>
<path d="M774.4,565.5 V571.0" stroke="#3a2340" stroke-width="1.7"/>
<path d="M748.0,537.0 C749.5,536.9 750.3,540.0 751.8,542.1 C753.2,544.2 755.6,547.6 756.7,549.7 C757.8,551.8 757.1,553.0 758.2,554.8 C759.3,556.6 762.1,558.3 763.1,560.3 C764.1,562.3 763.3,564.5 764.3,566.7 C765.2,568.9 768.7,571.6 768.8,573.5 C768.9,575.4 767.5,577.5 765.0,578.1 C762.5,578.8 756.2,577.1 753.7,577.3 C751.2,577.5 751.5,579.4 749.9,579.4 C748.3,579.4 746.9,577.4 744.2,577.3 C741.6,577.1 736.2,579.3 734.0,578.6 C731.8,577.8 730.9,574.9 731.0,573.0 C731.1,571.2 734.7,569.6 734.8,567.5 C734.9,565.4 731.4,562.2 731.8,560.3 C732.1,558.4 735.5,557.8 736.7,556.1 C737.8,554.3 737.5,551.9 738.6,549.7 C739.6,547.5 741.5,545.1 743.1,542.9 C744.7,540.8 746.6,537.1 748.0,537.0Z" fill="#5d7e3b"/>
<path d="M750.6,570.9 V590.5 M750.6,573.1 l-2.3,-2.4 M750.6,572.3 l2.1,-2.2" stroke="#3a2340" stroke-width="1.2" fill="none" stroke-linecap="round"/>
<path d="M750.6,578.4 V590.5" stroke="#3a2340" stroke-width="1.7"/>
<path d="M809.5,546.0 C812.6,546.0 816.2,546.5 818.9,547.9 C821.5,549.2 823.7,551.6 825.3,554.1 C826.9,556.6 828.0,560.2 828.3,562.7 C828.6,565.3 828.1,567.6 827.2,569.2 C826.2,570.8 825.6,571.6 822.6,572.2 C819.7,572.8 813.8,573.0 809.5,573.0 C805.1,573.0 799.2,572.8 796.3,572.2 C793.3,571.6 792.7,570.8 791.7,569.2 C790.8,567.6 790.3,565.3 790.6,562.7 C790.9,560.2 792.0,556.6 793.6,554.1 C795.2,551.6 797.4,549.2 800.0,547.9 C802.7,546.5 806.3,546.0 809.5,546.0Z" fill="#90b16a"/>
<path d="M808.0,572.0 V581.0" stroke="#3a2340" stroke-width="2.0"/>
<path d="M827.0,568.7 C827.0,561.1 831.9,560.2 834.3,561.4 C835.8,552.8 845.1,552.8 845.5,562.6 C848.5,561.1 851.4,563.2 851.4,568.7 Z" fill="#5f9b79"/>
<path d="M786.6,561.6 C789.4,561.6 792.6,562.1 794.9,563.3 C797.2,564.6 799.2,566.8 800.5,569.1 C801.9,571.4 802.9,574.7 803.2,577.0 C803.5,579.4 803.0,581.6 802.2,583.0 C801.4,584.5 800.8,585.2 798.2,585.8 C795.6,586.3 790.5,586.5 786.6,586.5 C782.7,586.5 777.6,586.3 775.0,585.8 C772.4,585.2 771.8,584.5 771.0,583.0 C770.2,581.6 769.7,579.4 770.0,577.0 C770.3,574.7 771.3,571.4 772.7,569.1 C774.0,566.8 776.0,564.6 778.3,563.3 C780.6,562.1 783.8,561.6 786.6,561.6Z" fill="#5f8044"/>
<path d="M787.0,581.5 V598.0 M787.0,583.7 l-2.3,-2.4 M787.0,582.9 l2.1,-2.2" stroke="#3a2340" stroke-width="1.2" fill="none" stroke-linecap="round"/>
<path d="M787.0,585.5 V598.0" stroke="#3a2340" stroke-width="1.7"/>
<path d="M439.0,698.6 A5.2,5.2 0 0 1 447.1,700.9 A5.5,5.5 0 0 1 453.4,707.2 A5.8,5.8 0 0 1 456.3,716.1 A5.9,5.9 0 0 1 455.3,725.6 A5.7,5.7 0 0 1 450.6,733.4 A5.3,5.3 0 0 1 443.2,737.8 A5.2,5.2 0 0 1 434.8,737.8 A5.3,5.3 0 0 1 427.4,733.4 A5.7,5.7 0 0 1 422.7,725.6 A5.9,5.9 0 0 1 421.7,716.1 A5.8,5.8 0 0 1 424.6,707.2 A5.5,5.5 0 0 1 430.9,700.9 A5.2,5.2 0 0 1 439.0,698.6Z" fill="#5f9b79"/>
<path d="M437.5,730.8 V739.0 M437.5,733.0 l-2.3,-2.4 M437.5,732.2 l2.1,-2.2" stroke="#3a2340" stroke-width="1.2" fill="none" stroke-linecap="round"/>
<path d="M437.5,738.0 V739.0" stroke="#3a2340" stroke-width="1.7"/>
<path d="M415.0,709.7 C418.2,709.7 421.8,710.3 424.5,711.9 C427.2,713.5 429.4,716.3 431.0,719.2 C432.5,722.2 433.7,726.4 434.0,729.4 C434.3,732.4 433.8,735.2 432.9,737.0 C431.9,738.9 431.3,739.8 428.3,740.5 C425.3,741.3 419.4,741.5 415.0,741.5 C410.6,741.5 404.7,741.3 401.7,740.5 C398.7,739.8 398.1,738.9 397.1,737.0 C396.2,735.2 395.7,732.4 396.0,729.4 C396.3,726.4 397.5,722.2 399.0,719.2 C400.6,716.3 402.8,713.5 405.5,711.9 C408.2,710.3 411.8,709.7 415.0,709.7Z" fill="#90ae3d"/>
<path d="M415.0,735.1 V742.0 M415.0,737.3 l-2.3,-2.4 M415.0,736.5 l2.1,-2.2" stroke="#3a2340" stroke-width="1.2" fill="none" stroke-linecap="round"/>
<path d="M415.0,740.5 V742.0" stroke="#3a2340" stroke-width="1.7"/>
<path d="M415.7,751.6 C415.7,745.3 419.5,744.5 421.4,745.5 C422.6,738.5 429.8,738.5 430.2,746.5 C432.5,745.3 434.8,747.1 434.8,751.6 Z" fill="#90ae3d"/>
<path d="M399.2,730.5 C402.2,730.5 405.6,731.1 408.1,732.7 C410.6,734.3 412.7,737.2 414.2,740.1 C415.6,743.0 416.7,747.4 417.0,750.3 C417.3,753.3 416.8,756.2 415.9,758.0 C415.0,759.9 414.5,760.8 411.7,761.5 C408.9,762.3 403.4,762.5 399.2,762.5 C395.1,762.5 389.6,762.3 386.8,761.5 C384.0,760.8 383.5,759.9 382.6,758.0 C381.7,756.2 381.2,753.3 381.5,750.3 C381.8,747.4 382.9,743.0 384.3,740.1 C385.8,737.2 387.9,734.3 390.4,732.7 C392.9,731.1 396.3,730.5 399.2,730.5Z" fill="#98b58a"/>
<path d="M400.0,761.5 V762.5" stroke="#3a2340" stroke-width="1.7"/>
<path d="M167.8,722.5 L167.2,667 L151.5,655 L153.5,652.8 L169.5,662 L176.5,657.5 L178.3,660 L174.6,666 L175.4,722.5 Z" fill="#3a2340"/>
<path d="M113.0,600.6 C119.6,595.5 134.2,589.2 143.5,585.4 C152.8,581.6 159.9,579.7 168.8,577.8 C177.7,575.9 190.4,573.6 196.8,574.0 C203.2,574.4 203.6,576.7 207.0,580.3 C210.4,583.9 212.8,590.4 217.0,595.5 C221.2,600.6 228.7,605.7 232.3,610.8 C235.9,615.9 237.3,620.9 238.6,626.0 C239.9,631.1 240.4,635.7 240.0,641.2 C239.6,646.7 238.6,653.9 236.0,659.0 C233.4,664.1 228.7,668.7 224.7,671.7 C220.7,674.7 217.9,675.5 212.0,676.8 C206.1,678.1 196.4,679.5 189.0,679.3 C181.6,679.1 173.5,675.9 167.6,675.5 C161.7,675.1 159.7,676.8 153.6,676.8 C147.5,676.8 137.6,676.4 130.8,675.5 C124.0,674.6 117.5,673.6 113.0,671.7 C108.5,669.8 106.1,667.8 104.0,664.0 C101.9,660.2 100.7,653.9 100.3,648.8 C99.9,643.7 101.0,639.1 101.6,633.6 C102.2,628.1 102.1,621.3 104.0,615.8 C105.9,610.3 106.4,605.7 113.0,600.6Z" fill="#22664d"/>
<path d="M188.8,584.3v4.6M136.3,593.0v4.6M151.8,597.7v4.6M165.5,596.2v4.6M182.9,594.7v4.6M196.9,592.6v4.6M208.2,593.6v4.6M116.5,607.7v4.6M133.2,610.4v4.6M144.2,609.6v4.6M160.5,611.6v4.6M176.3,607.7v4.6M192.4,606.5v4.6M203.3,610.8v4.6M216.1,609.0v4.6M111.2,623.1v4.6M126.4,621.3v4.6M139.8,623.2v4.6M153.6,622.3v4.6M169.7,625.6v4.6M181.9,623.7v4.6M193.7,624.0v4.6M212.0,625.9v4.6M227.6,621.1v4.6M113.8,635.8v4.6M129.2,633.5v4.6M143.0,637.9v4.6M157.9,634.4v4.6M174.1,638.6v4.6M186.6,635.8v4.6M204.1,638.7v4.6M220.3,638.6v4.6M231.4,635.5v4.6M108.6,652.2v4.6M127.0,647.2v4.6M136.5,647.8v4.6M151.3,649.5v4.6M168.1,648.0v4.6M178.9,649.1v4.6M195.7,650.0v4.6M213.9,650.9v4.6M225.6,650.4v4.6M133.7,665.1v4.6M145.1,662.4v4.6M157.8,664.0v4.6M172.0,660.2v4.6M187.4,660.8v4.6M202.8,660.1v4.6M215.1,660.7v4.6" stroke="#c6f3ea" stroke-width="1.00" fill="none"/>
<path d="M167.6,676 L167.2,667 L151.5,655 L153.5,652.8 L169.5,662 L176.5,657.5 L178.3,660 L174.6,666 L174.8,677 Z" fill="#3a2340"/>
<path d="M754,710 C751,707.5 755,704.5 760,704.5 C760,697 764,690 770,685.5 C778,679.5 790,682 792,694 C797,690 807,689.5 813,694.5 C819,699 822.5,704 822.8,710 Z" fill="#cfe2e2" fill-opacity=".72"/>
<path d="M724.7,762.5 L725,742 L730.5,742 L730.6,748 L735.5,743 L737,744.6 L730.6,752 L730.2,762.5 Z" fill="#3a2340"/>
<path d="M691.1,717.0 C691.1,711.3 693.5,702.7 696.6,697.6 C699.7,692.5 704.4,688.7 709.5,686.3 C714.6,683.9 721.6,683.0 727.3,683.0 C733.0,683.0 739.5,683.9 743.5,686.3 C747.5,688.7 747.6,694.4 751.6,697.6 C755.6,700.8 764.6,702.5 767.8,705.7 C771.0,708.9 769.1,713.5 771.0,717.0 C772.9,720.5 777.9,722.9 779.0,726.7 C780.1,730.5 779.1,735.9 777.5,739.7 C775.9,743.5 773.4,747.4 769.4,749.4 C765.4,751.4 759.1,752.3 753.2,752.0 C747.3,751.7 739.7,748.2 733.8,747.8 C727.9,747.4 722.2,749.9 717.6,749.4 C713.0,748.9 709.8,747.5 706.3,744.5 C702.8,741.5 699.1,736.2 696.6,731.6 C694.1,727.0 691.1,722.7 691.1,717.0Z" fill="#566b2e"/>
<path d="M719.7,686.9v2.7M724.4,686.0v2.7M730.6,687.1v2.7M710.4,691.8v2.7M716.7,693.3v2.7M723.2,691.6v2.7M727.5,691.2v2.7M733.8,691.1v2.7M741.4,693.1v2.7M699.0,698.4v2.7M707.2,697.3v2.7M712.0,698.8v2.7M719.3,696.6v2.7M724.0,696.6v2.7M732.6,698.4v2.7M736.9,698.5v2.7M745.7,698.0v2.7M702.0,702.6v2.7M708.4,703.4v2.7M714.8,702.9v2.7M720.9,704.3v2.7M727.9,703.0v2.7M734.9,704.3v2.7M740.9,704.3v2.7M747.5,703.2v2.7M754.0,701.8v2.7M699.0,708.8v2.7M706.1,709.6v2.7M711.2,708.9v2.7M718.0,708.1v2.7M725.9,708.8v2.7M731.7,709.5v2.7M739.1,708.6v2.7M744.6,708.8v2.7M750.7,709.3v2.7M757.0,708.9v2.7M763.4,710.0v2.7M696.5,715.6v2.7M703.7,713.3v2.7M708.0,714.2v2.7M714.3,713.6v2.7M720.7,714.8v2.7M729.1,715.5v2.7M733.7,715.0v2.7M741.6,713.4v2.7M748.6,715.7v2.7M753.1,715.6v2.7M760.0,714.3v2.7M768.1,715.3v2.7M698.6,719.5v2.7M706.5,718.6v2.7M712.5,719.8v2.7M717.3,719.5v2.7M725.4,720.0v2.7M730.3,721.3v2.7M738.7,721.3v2.7M743.2,719.3v2.7M749.4,720.7v2.7M756.5,718.9v2.7M763.3,721.1v2.7M701.5,724.3v2.7M709.6,725.4v2.7M714.3,726.8v2.7M722.3,726.4v2.7M727.1,726.6v2.7M733.5,726.6v2.7M741.0,725.1v2.7M747.6,726.8v2.7M753.2,724.5v2.7M760.4,724.8v2.7M765.6,724.6v2.7M771.8,724.7v2.7M700.2,730.6v2.7M705.9,730.3v2.7M711.9,729.8v2.7M718.0,729.8v2.7M725.8,731.3v2.7M730.6,731.1v2.7M739.1,730.1v2.7M745.2,731.0v2.7M750.7,732.1v2.7M756.8,731.2v2.7M764.0,732.5v2.7M769.5,732.1v2.7M707.9,737.4v2.7M714.8,735.8v2.7M720.7,737.7v2.7M729.3,737.2v2.7M734.1,736.0v2.7M740.5,736.6v2.7M746.5,736.6v2.7M753.2,738.1v2.7M761.6,736.9v2.7M766.0,738.1v2.7M772.6,736.4v2.7M717.5,742.1v2.7M723.8,741.0v2.7M730.9,741.6v2.7M738.1,742.4v2.7M745.0,742.8v2.7M751.3,743.4v2.7M756.8,741.9v2.7M764.9,741.4v2.7M770.5,742.8v2.7" stroke="#aee8e6" stroke-width="0.95" fill="none"/>
<path d="M725,749.5 L725,742 L730.5,742 L730.6,748 L735.5,743 L737,744.6 L730.6,751 Z" fill="#3a2340"/>
<path d="M714.4,772.7 C714.4,759.9 724.2,758.2 729.2,760.3 C732.1,745.8 750.8,745.8 751.8,762.4 C757.7,759.9 763.6,763.4 763.6,772.7 Z" fill="#5f9b79"/>
<path d="M683.7,714.5 C687.7,715.0 694.4,719.3 698.2,723.5 C702.0,727.7 704.7,734.9 706.3,739.7 C707.9,744.6 708.5,748.3 708.0,752.6 C707.5,756.9 705.7,762.6 703.0,765.6 C700.3,768.6 695.8,769.9 691.8,770.4 C687.8,770.9 682.6,770.1 678.8,768.8 C675.0,767.4 671.3,765.5 669.0,762.3 C666.7,759.1 665.5,754.2 665.2,749.4 C665.0,744.5 666.0,738.1 667.5,733.2 C669.0,728.4 671.3,723.4 674.0,720.3 C676.7,717.2 679.7,714.0 683.7,714.5Z" fill="#6b9b4b"/>
<path d="M682.7,717.8v2.8M671.7,730.1v2.8M678.4,727.6v2.8M685.9,728.9v2.8M694.3,728.6v2.8M675.5,735.8v2.8M682.4,734.5v2.8M688.3,735.6v2.8M697.8,737.4v2.8M671.0,744.9v2.8M678.3,743.5v2.8M687.2,743.8v2.8M695.0,747.0v2.8M699.4,744.9v2.8M674.5,752.6v2.8M681.2,755.5v2.8M688.7,753.9v2.8M696.0,753.7v2.8M679.7,763.0v2.8M685.1,763.8v2.8M693.4,760.1v2.8" stroke="#c2f2ea" stroke-width="0.95" fill="none"/>
<path d="M683.6,791.5 L684,747 L687,747 L687.4,760 L691.5,753 L693.6,754.2 L688,764.5 L688,791.5 Z M684,763 L680,757.5 L681.6,756.4 L685,760.5 Z" fill="#3a2340"/>
<circle cx="193.0" cy="725.0" r="20.1" fill="none" stroke="#1f4a4d" stroke-width="1.4"/>
<circle cx="193.0" cy="725.0" r="18.2" fill="none" stroke="#e8d6c1" stroke-width="2.4"/>
<path d="M193.0,725.0L210.0,725.0M193.0,725.0L209.5,729.1M193.0,725.0L208.1,732.9M193.0,725.0L205.7,736.3M193.0,725.0L202.7,739.0M193.0,725.0L199.0,740.9M193.0,725.0L195.0,741.9M193.0,725.0L191.0,741.9M193.0,725.0L187.0,740.9M193.0,725.0L183.3,739.0M193.0,725.0L180.3,736.3M193.0,725.0L177.9,732.9M193.0,725.0L176.5,729.1M193.0,725.0L176.0,725.0M193.0,725.0L176.5,720.9M193.0,725.0L177.9,717.1M193.0,725.0L180.3,713.7M193.0,725.0L183.3,711.0M193.0,725.0L187.0,709.1M193.0,725.0L191.0,708.1M193.0,725.0L195.0,708.1M193.0,725.0L199.0,709.1M193.0,725.0L202.7,711.0M193.0,725.0L205.7,713.7M193.0,725.0L208.1,717.1M193.0,725.0L209.5,720.9" stroke="#1f4a4d" stroke-width="0.95" fill="none"/>
<circle cx="193.0" cy="725.0" r="2.2" fill="#1f4a4d"/>
<circle cx="257.0" cy="725.0" r="20.1" fill="none" stroke="#1f4a4d" stroke-width="1.4"/>
<circle cx="257.0" cy="725.0" r="18.2" fill="none" stroke="#e8d6c1" stroke-width="2.4"/>
<path d="M257.0,725.0L274.0,725.0M257.0,725.0L273.5,729.1M257.0,725.0L272.1,732.9M257.0,725.0L269.7,736.3M257.0,725.0L266.7,739.0M257.0,725.0L263.0,740.9M257.0,725.0L259.0,741.9M257.0,725.0L255.0,741.9M257.0,725.0L251.0,740.9M257.0,725.0L247.3,739.0M257.0,725.0L244.3,736.3M257.0,725.0L241.9,732.9M257.0,725.0L240.5,729.1M257.0,725.0L240.0,725.0M257.0,725.0L240.5,720.9M257.0,725.0L241.9,717.1M257.0,725.0L244.3,713.7M257.0,725.0L247.3,711.0M257.0,725.0L251.0,709.1M257.0,725.0L255.0,708.1M257.0,725.0L259.0,708.1M257.0,725.0L263.0,709.1M257.0,725.0L266.7,711.0M257.0,725.0L269.7,713.7M257.0,725.0L272.1,717.1M257.0,725.0L273.5,720.9" stroke="#1f4a4d" stroke-width="0.95" fill="none"/>
<circle cx="257.0" cy="725.0" r="2.2" fill="#1f4a4d"/>
<path d="M211,690 L216.5,688 L220.5,714 L217,714.5 Z" fill="#c9775a"/>
<path d="M193,725 L221,728.8 L246.5,697 L212.5,697.5 L193,725 M209.5,690 L221,728.8 M245,686 L257,725" fill="none" stroke="#8a87ca" stroke-width="2" stroke-linejoin="round" stroke-linecap="round"/>
<path d="M172.2,717.5 A21.8,21.8 0 0 1 210.5,712" fill="none" stroke="#8a87ca" stroke-width="1.5"/>
<path d="M235.2,726 A21.8,21.8 0 0 1 269.5,707.1" fill="none" stroke="#8a87ca" stroke-width="1.5"/>
<path d="M181,700.5 H204.5" stroke="#e6dccb" stroke-width="1.6"/>
<path d="M188,701 L193,725 M197,701 L193,725" stroke="#1f4a4d" stroke-width="1" fill="none"/>
<path d="M204,689.5 H216" stroke="#1f3a4d" stroke-width="2.2" stroke-linecap="round"/>
<path d="M244.3,680 L245.8,692" stroke="#e6dccb" stroke-width="2.2" stroke-linecap="round"/>
<path d="M239,679 L247.5,679.8" stroke="#e6dccb" stroke-width="2" stroke-linecap="round"/>
<circle cx="221" cy="728.8" r="6.2" fill="#2a4a52"/>
<path d="M221,728.8 L224.5,740.5 M221.5,741.8 L229,740.8" stroke="#2a4a52" stroke-width="1.8" stroke-linecap="round"/>
<path d="M207,681 L230,679 Q236.5,683.5 233,689.5 L224,716 L219.5,715 L223.5,692.5 L210,691 Z" fill="#e08a68"/>
<path d="M217,714.5 L224.5,716.5 L226.5,719.5 L215.5,718.5 Z" fill="#e6dccb"/>
<path d="M196.8,675 Q206,671 218.5,676 L218.3,688 Q208,692.5 200.5,689.5 Q195.5,684 196.8,675 Z" fill="#e8c040"/>
<path d="M197,675.5 Q198,664 208,655.5 Q214,653 219,656 Q224,661 222.5,668 L219,678 Q207,672.5 197,675.5 Z" fill="#e6dccb"/>
<path d="M211.5,659.5 Q214.5,655.5 218.5,659 L229,673 L242.5,678 L242,681.2 L226.5,677.5 Q217,668 211.5,659.5 Z" fill="#e08a68"/>
<path d="M221,645 L227.5,645.5 L228.2,650.5 L226,653.5 L221.5,652 Z" fill="#e08a68"/>
<path d="M216,651 L222,651 L221,657 L215,656 Z" fill="#e08a68"/>
<path d="M205.8,645 C204.5,639 210,636.5 216,637.8 C222,635.5 231,637.5 231,643 C230.5,646.5 226,648 222.5,647.5 C222.5,651.5 218.5,653.5 214.5,652 C209,650.5 206.5,648.5 205.8,645 Z" fill="#e8ddcc"/>
<rect x="472.6" y="137.6" width="4.6" height="13.8" fill="#6b8f3a"/>
<rect x="468.0" y="141.9" width="14.1" height="5.2" fill="#6b8f3a"/>
<rect x="457.3" y="160.6" width="35.5" height="18.3" fill="#f0cf85"/>
<rect x="459.5" y="161.3" width="8.6" height="6.9" fill="#525b56"/>
<rect x="482.1" y="161.3" width="8.9" height="6.9" fill="#525b56"/>
<circle cx="463.8" cy="165.5" r="1.5" fill="#8fae3c"/>
<circle cx="486.4" cy="165.5" r="1.5" fill="#8fae3c"/>
<rect x="468.0" y="160.6" width="2.4" height="15.3" fill="#e0b96a"/>
<rect x="479.6" y="160.6" width="2.4" height="15.3" fill="#e0b96a"/>
<path d="M470.6,168.2 L470.6,164.8 L472.6,162.1 L474.9,161.3 L477.2,162.1 L479.0,164.8 L479.0,168.2Z" fill="#525b56"/>
<rect x="471.1" y="167.9" width="7.3" height="7.3" fill="#ffffff"/>
<path d="M455.8,160.9 L469.6,156.0 L469.6,154.4 L470.8,154.4 L470.8,155.7 L478.1,155.7 L478.1,154.4 L479.3,154.4 L479.3,156.0 L493.9,160.9Z" fill="#525b56"/>
<path d="M457.3,180.7 L492.8,180.7 L492.8,177.7 L483.3,177.7 L482.4,175.2 L466.5,175.2 L465.9,177.7 L457.3,177.7Z" fill="#525b56"/>
<path d="M468.0,235.4 L470.2,229.0 L526.7,229.0 L528.7,235.4Z" fill="#ee9f80"/>
<rect x="468.0" y="235.4" width="60.7" height="21.7" fill="#dccfb6"/>
<rect x="467.1" y="235.4" width="2.4" height="21.7" fill="#cf7a5a"/>
<rect x="527.2" y="235.4" width="2.3" height="21.7" fill="#cf7a5a"/>
<rect x="468.0" y="255.0" width="60.7" height="2.1" fill="#ece3d0"/>
<rect x="482.9" y="243.8" width="29.8" height="1.8" fill="#f5efe2"/>
<rect x="472.5" y="236.2" width="4.9" height="8.1" fill="#ee9f80"/>
<rect x="472.9" y="236.7" width="4.0" height="6.7" fill="#ffffff"/>
<rect x="472.5" y="243.4" width="4.9" height="1.2" fill="#a5604a"/>
<rect x="472.8" y="246.6" width="4.3" height="7.5" fill="#ee9f80" rx="2.0"/>
<rect x="473.4" y="247.4" width="3.1" height="5.8" fill="#ffffff" rx="1.5"/>
<rect x="472.8" y="253.2" width="4.3" height="1.2" fill="#a5604a"/>
<rect x="480.1" y="236.2" width="4.9" height="8.1" fill="#ee9f80"/>
<rect x="480.6" y="236.7" width="4.0" height="6.7" fill="#ffffff"/>
<rect x="480.1" y="243.4" width="4.9" height="1.2" fill="#a5604a"/>
<rect x="480.4" y="246.6" width="4.3" height="7.5" fill="#ee9f80" rx="2.0"/>
<rect x="481.0" y="247.4" width="3.1" height="5.8" fill="#ffffff" rx="1.5"/>
<rect x="480.4" y="253.2" width="4.3" height="1.2" fill="#a5604a"/>
<rect x="487.7" y="236.2" width="4.9" height="8.1" fill="#ee9f80"/>
<rect x="488.2" y="236.7" width="4.0" height="6.7" fill="#ffffff"/>
<rect x="487.7" y="243.4" width="4.9" height="1.2" fill="#a5604a"/>
<rect x="488.1" y="246.6" width="4.3" height="7.5" fill="#ee9f80" rx="2.0"/>
<rect x="488.7" y="247.4" width="3.1" height="5.8" fill="#ffffff" rx="1.5"/>
<rect x="488.1" y="253.2" width="4.3" height="1.2" fill="#a5604a"/>
<rect x="503.0" y="236.2" width="4.9" height="8.1" fill="#ee9f80"/>
<rect x="503.5" y="236.7" width="4.0" height="6.7" fill="#ffffff"/>
<rect x="503.0" y="243.4" width="4.9" height="1.2" fill="#a5604a"/>
<rect x="503.3" y="246.6" width="4.3" height="7.5" fill="#ee9f80" rx="2.0"/>
<rect x="503.9" y="247.4" width="3.1" height="5.8" fill="#ffffff" rx="1.5"/>
<rect x="503.3" y="253.2" width="4.3" height="1.2" fill="#a5604a"/>
<rect x="510.4" y="236.2" width="4.9" height="8.1" fill="#ee9f80"/>
<rect x="510.8" y="236.7" width="4.0" height="6.7" fill="#ffffff"/>
<rect x="510.4" y="243.4" width="4.9" height="1.2" fill="#a5604a"/>
<rect x="510.7" y="246.6" width="4.3" height="7.5" fill="#ee9f80" rx="2.0"/>
<rect x="511.3" y="247.4" width="3.1" height="5.8" fill="#ffffff" rx="1.5"/>
<rect x="510.7" y="253.2" width="4.3" height="1.2" fill="#a5604a"/>
<rect x="518.0" y="236.2" width="4.9" height="8.1" fill="#ee9f80"/>
<rect x="518.5" y="236.7" width="4.0" height="6.7" fill="#ffffff"/>
<rect x="518.0" y="243.4" width="4.9" height="1.2" fill="#a5604a"/>
<rect x="518.3" y="246.6" width="4.3" height="7.5" fill="#ee9f80" rx="2.0"/>
<rect x="518.9" y="247.4" width="3.1" height="5.8" fill="#ffffff" rx="1.5"/>
<rect x="518.3" y="253.2" width="4.3" height="1.2" fill="#a5604a"/>
<rect x="495.2" y="236.2" width="6.4" height="8.1" fill="#ee9f80"/>
<rect x="495.7" y="236.7" width="5.5" height="6.7" fill="#ffffff"/>
<rect x="495.2" y="243.4" width="6.4" height="1.2" fill="#a5604a"/>
<rect x="495.5" y="246.6" width="5.5" height="10.5" fill="#ee9f80" rx="2.0"/>
<rect x="496.5" y="247.7" width="3.7" height="8.6" fill="#ffffff"/>
<path d="M574.3,271.7 L594.6,271.7 L594.6,283.5 L574.3,283.5Z" fill="#dccfb6"/>
<path d="M594.6,271.7 L599.8,265.5 L605.5,272.1 L605.5,283.5 L594.6,283.5Z" fill="#fdf7ec"/>
<path d="M573.9,272.1 L580.4,265.5 L600.1,265.5 L595.0,272.1Z" fill="#ee9f80"/>
<rect x="578.5" y="274.0" width="2.9" height="4.8" fill="#a5604a"/>
<rect x="583.2" y="274.0" width="2.9" height="4.8" fill="#a5604a"/>
<rect x="587.6" y="274.0" width="2.9" height="4.8" fill="#a5604a"/>
<path d="M597.1,283.5 L597.1,278.8 L599.2,276.9 L601.3,278.8 L601.3,283.5Z" fill="#c98a70"/>
<rect x="573.9" y="272.1" width="1.5" height="11.4" fill="#5d5448"/>
<rect x="593.5" y="272.1" width="1.5" height="11.4" fill="#5d5448"/>
<rect x="604.3" y="273.1" width="1.3" height="10.5" fill="#5d5448"/>
<rect x="601.3" y="281.6" width="25.1" height="9.9" fill="#dccfb6"/>
<path d="M599.8,282.0 L606.0,277.8 L623.2,277.8 L627.2,282.0Z" fill="#ee9f80"/>
<rect x="603.2" y="284.5" width="3.8" height="5.1" fill="#a5604a"/>
<rect x="613.7" y="283.9" width="2.7" height="5.7" fill="#a5604a"/>
<rect x="617.5" y="283.9" width="2.7" height="5.7" fill="#a5604a"/>
<rect x="621.3" y="283.9" width="2.7" height="5.7" fill="#a5604a"/>
<rect x="567.4" y="286.4" width="17.7" height="10.8" fill="#dccfb6"/>
<path d="M566.1,287.7 L574.3,281.3 L593.7,281.3 L598.6,285.8 L584.2,285.8 L581.3,283.5 L572.7,285.4 L568.9,289.2Z" fill="#ee9f80"/>
<rect x="568.9" y="289.2" width="3.8" height="8.0" fill="#c98a70"/>
<rect x="583.2" y="287.7" width="3.8" height="4.4" fill="#a5604a"/>
<rect x="577.5" y="287.3" width="2.9" height="3.8" fill="#a5604a"/>
<rect x="584.2" y="294.0" width="22.5" height="16.6" fill="#fdf7ec"/>
<path d="M583.0,294.6 L588.9,289.2 L611.8,289.2 L620.7,294.6Z" fill="#ee9f80"/>
<rect x="587.6" y="301.6" width="5.1" height="8.2" fill="#c5ccd6"/>
<rect x="594.6" y="301.6" width="5.7" height="8.2" fill="#c5ccd6"/>
<rect x="588.9" y="295.9" width="2.9" height="2.9" fill="#ead8b0"/>
<rect x="595.6" y="295.9" width="2.9" height="2.9" fill="#ead8b0"/>
<rect x="601.3" y="295.9" width="2.5" height="2.9" fill="#ead8b0"/>
<path d="M606.6,300.7 L612.7,295.3 L620.3,295.3 L626.4,300.7 L626.4,311.5 L606.6,311.5Z" fill="#dccfb6"/>
<path d="M605.9,301.2 L612.7,295.0 L620.7,295.0 L616.5,301.2Z" fill="#d9805f"/>
<rect x="619.4" y="302.6" width="3.8" height="8.9" fill="#ffffff"/>
<path d="M579.4,311.7 C579.4,309.0 582.1,308.6 583.4,309.1 C584.2,306.0 589.3,306.0 589.5,309.5 C591.1,309.0 592.7,309.7 592.7,311.7 Z" fill="#8fb26b"/>
<path d="M630.0,292.1 C625.1,300.7 626.0,309.2 630.0,309.2 C634.0,309.2 634.8,300.7 630.0,292.1 Z" fill="#2b7f7c"/>
<path d="M630.2,295.9 L630.2,312.5" fill="none" stroke="#1f3a6b" stroke-width="1.00" stroke-linecap="butt" stroke-linejoin="round"/>
<path d="M490.0,320.6 L500.4,320.6 L500.4,332.6 L494.4,332.6 L490.0,331.1Z" fill="#dccfb6"/>
<path d="M500.4,320.6 L510.9,312.1 L521.8,320.6 L521.8,329.6 L500.4,332.6Z" fill="#fdf7ec"/>
<path d="M489.0,321.0 L499.5,312.1 L511.3,312.1 L500.8,321.0Z" fill="#ee9f80"/>
<path d="M510.9,312.1 L521.8,321.0" fill="none" stroke="#d9805f" stroke-width="1.20" stroke-linecap="butt" stroke-linejoin="round"/>
<path d="M502.3,328.3 L502.3,321.6 L506.2,317.8 L514.7,316.8 L519.1,320.6 L519.1,328.3Z" fill="#ee9f80"/>
<rect x="507.3" y="321.6" width="2.7" height="6.7" fill="#fdf7ec"/>
<rect x="513.0" y="321.6" width="2.7" height="6.7" fill="#fdf7ec"/>
<path d="M520.4,310.2 C516.0,317.8 516.8,326.9 520.4,327.3 C524.0,326.9 524.8,317.8 520.4,310.2 Z" fill="#2aa98c"/>
<path d="M520.6,313.0 L520.6,328.3" fill="none" stroke="#1f3a6b" stroke-width="0.90" stroke-linecap="butt" stroke-linejoin="round"/>
<path d="M528.0,316.8 L535.6,309.6 L543.3,316.8 L543.3,328.8 L528.0,328.8Z" fill="#fdf7ec"/>
<rect x="543.3" y="316.8" width="22.8" height="13.9" fill="#dccfb6"/>
<path d="M535.6,309.2 L559.4,309.2 L566.7,317.2 L542.9,317.2Z" fill="#ee9f80"/>
<path d="M527.7,317.4 L535.6,309.4" fill="none" stroke="#d9805f" stroke-width="1.20" stroke-linecap="butt" stroke-linejoin="round"/>
<rect x="532.8" y="315.9" width="5.3" height="6.1" fill="#a5604a"/>
<rect x="532.4" y="325.0" width="6.1" height="3.8" fill="#a5604a"/>
<rect x="547.1" y="319.7" width="4.8" height="4.9" fill="#a5604a"/>
<rect x="556.6" y="319.7" width="4.8" height="4.9" fill="#a5604a"/>
<rect x="541.4" y="317.2" width="2.1" height="12.9" fill="#5d5448"/>
<rect x="528.2" y="318.7" width="1.3" height="10.1" fill="#5d5448"/>
<rect x="553.3" y="310.6" width="1.9" height="3.4" fill="#8a6a5a"/>
<rect x="505.2" y="336.4" width="34.8" height="15.0" fill="#f3ead8"/>
<path d="M539.4,336.8 L545.5,328.8 L555.1,337.2 L555.1,351.5 L539.4,351.5Z" fill="#fdf7ec"/>
<path d="M503.9,336.8 L510.3,328.4 L545.7,328.4 L539.6,336.8Z" fill="#ee9f80"/>
<path d="M506.2,334.9 L540.8,334.9" fill="none" stroke="#d9805f" stroke-width="0.60" stroke-linecap="butt" stroke-linejoin="round"/>
<path d="M507.7,333.0 L542.3,333.0" fill="none" stroke="#d9805f" stroke-width="0.60" stroke-linecap="butt" stroke-linejoin="round"/>
<path d="M509.2,331.1 L543.8,331.1" fill="none" stroke="#d9805f" stroke-width="0.60" stroke-linecap="butt" stroke-linejoin="round"/>
<path d="M545.5,328.6 L555.4,337.6" fill="none" stroke="#d9805f" stroke-width="1.20" stroke-linecap="butt" stroke-linejoin="round"/>
<rect x="506.2" y="339.7" width="6.1" height="8.0" fill="#9ab83a"/>
<rect x="507.9" y="340.2" width="2.7" height="6.8" fill="#e9d9b0"/>
<rect x="520.4" y="339.7" width="6.1" height="8.0" fill="#9ab83a"/>
<rect x="522.1" y="340.2" width="2.7" height="6.8" fill="#e9d9b0"/>
<rect x="527.1" y="339.7" width="6.1" height="8.0" fill="#9ab83a"/>
<rect x="528.8" y="340.2" width="2.7" height="6.8" fill="#e9d9b0"/>
<rect x="513.4" y="341.6" width="5.7" height="9.9" fill="#a5604a"/>
<path d="M544.2,338.7 L556.6,342.9 L556.6,351.5 L544.2,351.5Z" fill="#ecd9b4"/>
<path d="M543.8,338.3 L557.1,342.5 L557.1,344.4 L543.8,340.2Z" fill="#ee9f80"/>
<rect x="551.4" y="344.0" width="3.4" height="7.4" fill="#a5604a"/>
<path d="M487.5,319.3 L491.3,325.8 L493.2,326.9 L492.8,330.2 L495.5,335.9 L492.5,338.7 L487.5,338.0 L482.6,338.7 L479.1,335.9 L481.8,330.2 L481.0,327.3 L483.7,325.4Z" fill="#8fb26b"/>
<path d="M487.1,336.8 L487.1,343.5" fill="none" stroke="#6a4a6a" stroke-width="1.40" stroke-linecap="butt" stroke-linejoin="round"/>
<path d="M485.2,338.7 L489.0,338.7" fill="none" stroke="#6a4a6a" stroke-width="0.90" stroke-linecap="butt" stroke-linejoin="round"/>
<path d="M565.3,323.1 C566.6,323.1 568.1,323.3 569.2,323.8 C570.2,324.2 571.0,325.0 571.6,325.9 C572.2,326.9 572.6,328.4 572.7,329.4 C572.8,330.5 572.6,331.5 572.2,332.2 C571.7,332.9 570.9,333.3 569.8,333.6 C568.6,333.9 566.8,334.0 565.3,334.0 C563.8,334.0 562.0,333.9 560.9,333.6 C559.7,333.3 559.0,332.9 558.5,332.2 C558.0,331.5 557.8,330.5 557.9,329.4 C558.0,328.4 558.5,326.9 559.1,325.9 C559.7,325.0 560.4,324.2 561.5,323.8 C562.5,323.3 564.0,323.1 565.3,323.1Z" fill="#566b2e"/>
<path d="M565.5,333.0 V338.7" stroke="#3a2340" stroke-width="1.3"/>
<path d="M755.0,343.9 L831.8,342.1 L831.8,346.9 L802.1,350.5 L775.2,355.0 L768.0,355.0Z" fill="#bab4a5"/>
<path d="M775.2,355.0 L802.1,352.0 L831.8,347.5 L875.8,345.1 L875.8,365.6 L775.2,366.9Z" fill="#d9683f"/>
<path d="M875.8,345.1 L881.5,349.4 L881.5,363.8 L875.8,365.6Z" fill="#a8482f"/>
<rect x="877.2" y="352.0" width="3.2" height="9.0" fill="#6a2a20"/>
<rect x="776.6" y="356.4" width="14.4" height="10.1" fill="#e9d5a8"/>
<rect x="811.1" y="354.3" width="4.0" height="7.5" fill="#ecdcae"/>
<rect x="817.9" y="354.3" width="2.5" height="7.5" fill="#ecdcae"/>
<rect x="824.0" y="354.3" width="3.6" height="7.5" fill="#ecdcae"/>
<rect x="838.1" y="352.0" width="3.1" height="9.0" fill="#ecdcae"/>
<rect x="845.8" y="352.0" width="4.0" height="9.0" fill="#ecdcae"/>
<rect x="862.9" y="352.0" width="3.1" height="8.6" fill="#ecdcae"/>
<rect x="867.2" y="352.0" width="2.9" height="8.6" fill="#ecdcae"/>
<path d="M831.4,342.8 L875.8,340.1 L902.7,339.7" fill="none" stroke="#525b56" stroke-width="1.60" stroke-linecap="butt" stroke-linejoin="round"/>
<path d="M841.3,362.4 L886.6,360.2" fill="none" stroke="#525b56" stroke-width="1.20" stroke-linecap="butt" stroke-linejoin="round"/>
<path d="M882.1,358.4 L887.5,358.4" fill="none" stroke="#525b56" stroke-width="1.20" stroke-linecap="butt" stroke-linejoin="round"/>
<path d="M850.6,361.7 L850.6,366.7" fill="none" stroke="#525b56" stroke-width="0.90" stroke-linecap="butt" stroke-linejoin="round"/>
<path d="M858.7,361.7 L858.7,366.7" fill="none" stroke="#525b56" stroke-width="0.90" stroke-linecap="butt" stroke-linejoin="round"/>
<path d="M866.8,361.7 L866.8,366.7" fill="none" stroke="#525b56" stroke-width="0.90" stroke-linecap="butt" stroke-linejoin="round"/>
<path d="M883.9,361.7 L883.9,366.7" fill="none" stroke="#525b56" stroke-width="0.90" stroke-linecap="butt" stroke-linejoin="round"/>
<path d="M769.4,343.0 L769.4,368.5" fill="none" stroke="#525b56" stroke-width="1.90" stroke-linecap="butt" stroke-linejoin="round"/>
<path d="M787.7,343.0 L787.7,367.8" fill="none" stroke="#525b56" stroke-width="1.50" stroke-linecap="butt" stroke-linejoin="round"/>
<path d="M802.1,350.2 L802.1,367.8" fill="none" stroke="#525b56" stroke-width="1.70" stroke-linecap="butt" stroke-linejoin="round"/>
<path d="M821.5,346.2 L821.5,368.1" fill="none" stroke="#525b56" stroke-width="2.20" stroke-linecap="butt" stroke-linejoin="round"/>
<path d="M831.4,342.4 L831.4,369.9" fill="none" stroke="#525b56" stroke-width="2.70" stroke-linecap="butt" stroke-linejoin="round"/>
<path d="M843.8,343.9 L843.8,368.1" fill="none" stroke="#525b56" stroke-width="1.70" stroke-linecap="butt" stroke-linejoin="round"/>
<path d="M872.6,340.8 L872.6,369.2" fill="none" stroke="#525b56" stroke-width="2.70" stroke-linecap="butt" stroke-linejoin="round"/>
<path d="M888.0,340.3 L888.0,369.0" fill="none" stroke="#525b56" stroke-width="1.70" stroke-linecap="butt" stroke-linejoin="round"/>
<path d="M791.0,396.0 L842.5,396.0 L842.5,410.9 L794.9,410.9Z" fill="#8fa9c0"/>
<path d="M803.0,396.5 L840.8,404.1 L840.8,411.6 L816.8,411.6 L816.8,419.7 L803.9,419.7Z" fill="#d9714a"/>
<path d="M794.9,409.5 L803.9,410.9 L803.9,419.7 L797.1,420.2Z" fill="#234a5c"/>
<path d="M816.8,411.3 L868.6,412.5 L868.6,420.2 L816.8,419.9Z" fill="#234a5c"/>
<path d="M842.5,397.8 L851.0,404.1 L851.0,411.6 L842.5,411.6Z" fill="#a9c3d9"/>
<path d="M850.6,406.8 L884.8,409.5 L884.8,413.4 L850.6,412.3Z" fill="#8fa9c0"/>
<path d="M859.6,407.3 L859.6,413.1" fill="none" stroke="#7390aa" stroke-width="0.60" stroke-linecap="butt" stroke-linejoin="round"/>
<path d="M865.0,407.3 L865.0,413.1" fill="none" stroke="#7390aa" stroke-width="0.60" stroke-linecap="butt" stroke-linejoin="round"/>
<path d="M870.8,407.3 L870.8,413.1" fill="none" stroke="#7390aa" stroke-width="0.60" stroke-linecap="butt" stroke-linejoin="round"/>
<path d="M876.7,407.3 L876.7,413.1" fill="none" stroke="#7390aa" stroke-width="0.60" stroke-linecap="butt" stroke-linejoin="round"/>
<path d="M881.2,407.3 L881.2,413.1" fill="none" stroke="#7390aa" stroke-width="0.60" stroke-linecap="butt" stroke-linejoin="round"/>
<path d="M867.7,414.0 L890.2,413.4 L890.2,418.4 L867.7,418.8Z" fill="#d9683f"/>
<path d="M776.1,387.5 L842.5,391.8 L842.5,396.2 L791.3,396.2 L797.6,419.3 L790.4,423.5Z" fill="#575f5a"/>
<path d="M772.5,405.9 C774.7,405.9 781.0,405.4 785.9,406.2 C790.9,407.0 796.7,409.7 802.1,410.5 C807.5,411.4 812.9,411.4 818.3,411.3 C823.7,411.1 829.1,409.2 834.5,409.5 C839.9,409.7 845.2,412.2 850.6,412.7 C856.0,413.2 862.0,412.1 866.8,412.3 C871.6,412.6 875.5,413.8 879.4,414.1 C883.3,414.4 888.4,414.1 890.2,414.1" fill="none" stroke="#e3c8a3" stroke-width="1.10" stroke-linecap="butt" stroke-linejoin="round"/>
<path d="M785.0,405.0 L781.4,423.8" fill="none" stroke="#d9714a" stroke-width="0.60" stroke-linecap="butt" stroke-linejoin="round"/>
<path d="M786.8,405.0 L784.1,423.8" fill="none" stroke="#d9714a" stroke-width="0.60" stroke-linecap="butt" stroke-linejoin="round"/>
<path d="M843.4,411.3 L845.2,421.7" fill="none" stroke="#d9714a" stroke-width="0.60" stroke-linecap="butt" stroke-linejoin="round"/>
<path d="M847.9,411.3 L848.5,421.7" fill="none" stroke="#d9714a" stroke-width="0.60" stroke-linecap="butt" stroke-linejoin="round"/>
<path d="M836.3,413.1 L833.6,421.1" fill="none" stroke="#575f5a" stroke-width="0.70" stroke-linecap="butt" stroke-linejoin="round"/>
<path d="M839.0,413.1 L836.6,421.1" fill="none" stroke="#575f5a" stroke-width="0.70" stroke-linecap="butt" stroke-linejoin="round"/>
<path d="M856.0,413.1 L855.7,421.1" fill="none" stroke="#575f5a" stroke-width="0.70" stroke-linecap="butt" stroke-linejoin="round"/>
<path d="M865.0,413.1 L865.9,421.1" fill="none" stroke="#575f5a" stroke-width="0.70" stroke-linecap="butt" stroke-linejoin="round"/>
<path d="M867.7,413.1 L867.2,421.1" fill="none" stroke="#575f5a" stroke-width="0.70" stroke-linecap="butt" stroke-linejoin="round"/>
<path d="M792.2,425.6 C792.2,418.9 797.6,418.1 800.3,419.2 C801.9,411.6 812.2,411.6 812.7,420.2 C816.0,418.9 819.2,420.8 819.2,425.6 Z" fill="#8fae3c"/>
<rect x="335.0" y="440.3" width="20.1" height="18.5" fill="#525b56"/>
<rect x="340.8" y="446.2" width="15.5" height="12.6" fill="#e5d9c0"/>
<rect x="342.2" y="448.7" width="5.4" height="2.9" fill="#7d8480"/>
<rect x="349.4" y="448.7" width="5.4" height="2.9" fill="#7d8480"/>
<rect x="356.1" y="443.9" width="18.0" height="15.6" fill="#d9613c"/>
<rect x="357.9" y="450.2" width="5.9" height="4.0" fill="#8fd0cc"/>
<rect x="357.9" y="453.0" width="5.9" height="1.1" fill="#3a6a70"/>
<rect x="374.0" y="446.2" width="25.2" height="13.8" fill="#ffffff"/>
<rect x="374.9" y="450.2" width="3.6" height="9.5" fill="#525b56"/>
<rect x="382.1" y="450.2" width="5.8" height="9.5" fill="#a8d5d5"/>
<path d="M353.0,439.0 L400.4,445.5 L400.4,448.4 L353.0,441.7Z" fill="#747b77"/>
<path d="M384.8,468.1 L426.1,464.9 L426.1,469.9 L387.5,472.4Z" fill="#e5d3a8"/>
<path d="M387.5,472.4 L423.4,469.9 L423.4,486.5 L391.1,486.5Z" fill="#a9b0b3"/>
<path d="M401.0,472.4 L414.5,471.5 L414.5,485.6 L401.0,485.6Z" fill="#5d6663"/>
<path d="M402.2,476.2 L409.1,475.3 L409.1,481.1 L402.2,481.6Z" fill="#e8e8e8"/>
<path d="M401.9,486.1 L416.3,486.1 L422.5,493.6 L402.8,493.6Z" fill="#e5d4ae"/>
<path d="M389.3,469.0 L391.5,469.0" fill="none" stroke="#f6ecd0" stroke-width="0.90" stroke-linecap="butt" stroke-linejoin="round"/>
<path d="M396.5,469.0 L398.6,469.0" fill="none" stroke="#f6ecd0" stroke-width="0.90" stroke-linecap="butt" stroke-linejoin="round"/>
<path d="M403.7,469.0 L405.8,469.0" fill="none" stroke="#f6ecd0" stroke-width="0.90" stroke-linecap="butt" stroke-linejoin="round"/>
<path d="M410.9,469.0 L413.0,469.0" fill="none" stroke="#f6ecd0" stroke-width="0.90" stroke-linecap="butt" stroke-linejoin="round"/>
<path d="M418.1,469.0 L420.2,469.0" fill="none" stroke="#f6ecd0" stroke-width="0.90" stroke-linecap="butt" stroke-linejoin="round"/>
<clipPath id="lat"><rect x="465.0" y="437.8" width="92.7" height="20.0" rx="5"/></clipPath>
<rect x="469.4" y="440.8" width="84.4" height="16.6" fill="#dacdb9"/>
<rect x="469.4" y="440.4" width="84.4" height="0.8" fill="#9aa0a3"/>
<rect x="474.4" y="444.4" width="7.2" height="4.1" fill="#5d635d"/>
<rect x="483.3" y="444.4" width="6.7" height="4.1" fill="#5d635d"/>
<rect x="491.1" y="444.4" width="5.0" height="4.1" fill="#5d635d"/>
<rect x="475.0" y="451.9" width="22.8" height="4.4" fill="#5d635d"/>
<rect x="527.1" y="444.4" width="5.0" height="4.1" fill="#5d635d"/>
<rect x="533.3" y="444.4" width="6.7" height="4.1" fill="#5d635d"/>
<rect x="541.6" y="444.4" width="6.7" height="4.1" fill="#5d635d"/>
<rect x="525.5" y="451.5" width="23.3" height="4.8" fill="#5d635d"/>
<path d="M454.3,457.7L464.3,437.8M454.3,437.8L464.3,457.7M459.7,457.7L469.7,437.8M459.7,437.8L469.7,457.7M465.0,457.7L475.0,437.8M465.0,437.8L475.0,457.7M470.3,457.7L480.3,437.8M470.3,437.8L480.3,457.7M475.6,457.7L485.6,437.8M475.6,437.8L485.6,457.7M481.0,457.7L491.0,437.8M481.0,437.8L491.0,457.7M486.3,457.7L496.3,437.8M486.3,437.8L496.3,457.7M491.6,457.7L501.6,437.8M491.6,437.8L501.6,457.7M497.0,457.7L506.9,437.8M497.0,437.8L506.9,457.7M502.3,457.7L512.3,437.8M502.3,437.8L512.3,457.7M507.6,457.7L517.6,437.8M507.6,437.8L517.6,457.7M512.9,457.7L522.9,437.8M512.9,437.8L522.9,457.7M518.3,457.7L528.3,437.8M518.3,437.8L528.3,457.7M523.6,457.7L533.6,437.8M523.6,437.8L533.6,457.7M528.9,457.7L538.9,437.8M528.9,437.8L538.9,457.7M534.3,457.7L544.2,437.8M534.3,437.8L544.2,457.7M539.6,457.7L549.6,437.8M539.6,437.8L549.6,457.7M544.9,457.7L554.9,437.8M544.9,437.8L554.9,457.7M550.2,457.7L560.2,437.8M550.2,437.8L560.2,457.7M555.6,457.7L565.5,437.8M555.6,437.8L565.5,457.7M560.9,457.7L570.9,437.8M560.9,437.8L570.9,457.7" stroke="#9a8174" stroke-width=".7" fill="none" clip-path="url(#lat)" opacity=".85"/>
<path d="M502.2,438.5 L519.9,435.8 L519.9,457.1 L502.2,457.1Z" fill="#3a403b"/>
<path d="M506.6,442.4 L517.7,442.1" fill="none" stroke="#687068" stroke-width="0.50" stroke-linecap="butt" stroke-linejoin="round"/>
<path d="M506.6,446.3 L517.7,446.0" fill="none" stroke="#687068" stroke-width="0.50" stroke-linecap="butt" stroke-linejoin="round"/>
<path d="M506.6,450.2 L517.7,449.9" fill="none" stroke="#687068" stroke-width="0.50" stroke-linecap="butt" stroke-linejoin="round"/>
<path d="M506.6,453.0 L517.7,452.6" fill="none" stroke="#687068" stroke-width="0.50" stroke-linecap="butt" stroke-linejoin="round"/>
<path d="M506.6,438.2 L506.6,456.6" fill="none" stroke="#687068" stroke-width="0.50" stroke-linecap="butt" stroke-linejoin="round"/>
<path d="M512.2,438.2 L512.2,456.6" fill="none" stroke="#687068" stroke-width="0.50" stroke-linecap="butt" stroke-linejoin="round"/>
<path d="M517.2,438.2 L517.2,456.6" fill="none" stroke="#687068" stroke-width="0.50" stroke-linecap="butt" stroke-linejoin="round"/>
<rect x="506.6" y="453.3" width="10.5" height="3.6" fill="#2a2f2b"/>
<rect x="588.5" y="435.7" width="11.0" height="17.5" fill="#f3dfb5"/>
<rect x="593.0" y="428.0" width="2.2" height="8.0" fill="#ecd7a8"/>
<rect x="591.2" y="430.0" width="5.8" height="2.0" fill="#ecd7a8"/>
<rect x="587.3" y="434.5" width="13.5" height="1.6" fill="#ee9f80"/>
<path d="M592.6,447.1 L592.6,439.7 L594.4,437.7 L596.2,439.7 L596.2,447.1Z" fill="#b5603a"/>
<path d="M613.6,456.2 L641.8,464.6 L641.8,477.6 L613.6,479.7Z" fill="#fffaf0"/>
<rect x="636.7" y="464.6" width="5.0" height="13.1" fill="#f5e3bc"/>
<path d="M575.5,455.5 L594.0,447.1 L613.0,453.3 L613.0,479.7 L576.5,479.7Z" fill="#f5e3bc"/>
<path d="M574.9,456.2 L594.0,447.3 L613.4,453.5 L642.4,464.2" fill="none" stroke="#d9805f" stroke-width="1.30" stroke-linecap="butt" stroke-linejoin="round"/>
<rect x="575.9" y="456.2" width="2.6" height="23.5" fill="#d9b877"/>
<rect x="610.6" y="453.7" width="3.0" height="25.9" fill="#d9b877"/>
<path d="M590.5,478.2 L590.5,470.2 L592.2,467.4 L594.2,466.6 L596.2,467.4 L597.8,470.2 L597.8,478.2Z" fill="#b5603a"/>
<rect x="619.7" y="462.2" width="2.0" height="7.2" fill="#d9c39a"/>
<rect x="627.1" y="464.6" width="1.6" height="5.6" fill="#d9c39a"/>
<path d="M640.8,467.2 L640.8,476.2" fill="none" stroke="#e5d3a8" stroke-width="0.80" stroke-linecap="butt" stroke-linejoin="round"/>
<rect x="365.0" y="534.6" width="12.3" height="27.2" fill="#c9bda8"/>
<rect x="404.5" y="534.6" width="12.3" height="27.2" fill="#c9bda8"/>
<path d="M364.0,534.7 L368.8,529.5 L381.9,529.5 L377.3,534.7Z" fill="#ee9f80"/>
<path d="M417.8,534.7 L413.0,529.5 L399.9,529.5 L404.5,534.7Z" fill="#ee9f80"/>
<path d="M390.9,520.5 L404.5,533.8 L404.5,561.8 L377.3,561.8 L377.3,533.8Z" fill="#dccfb6"/>
<path d="M376.3,534.8 L390.9,520.7 L405.5,534.8" fill="none" stroke="#c9694a" stroke-width="1"/>
<circle cx="390.9" cy="528.8" r="3.3" fill="#fff" stroke="#e59a78" stroke-width=".8"/>
<path d="M389.3,529.5 l3.4,-1.3" stroke="#5a4a3a" stroke-width=".9"/>
<rect x="382.1" y="536.3" width="6.8" height="6.8" fill="#ee9f80"/>
<rect x="382.7" y="536.9" width="2.5" height="2.5" fill="#fff"/>
<rect x="382.7" y="540.0" width="2.5" height="2.5" fill="#fff"/>
<rect x="385.8" y="536.9" width="2.5" height="2.5" fill="#fff"/>
<rect x="385.8" y="540.0" width="2.5" height="2.5" fill="#fff"/>
<rect x="382.1" y="544.8" width="6.8" height="6.0" fill="#ee9f80"/>
<rect x="382.7" y="545.4" width="2.5" height="2.1" fill="#fff"/>
<rect x="382.7" y="548.1" width="2.5" height="2.1" fill="#fff"/>
<rect x="385.8" y="545.4" width="2.5" height="2.1" fill="#fff"/>
<rect x="385.8" y="548.1" width="2.5" height="2.1" fill="#fff"/>
<rect x="393.1" y="536.3" width="6.8" height="6.8" fill="#ee9f80"/>
<rect x="393.7" y="536.9" width="2.5" height="2.5" fill="#fff"/>
<rect x="393.7" y="540.0" width="2.5" height="2.5" fill="#fff"/>
<rect x="396.8" y="536.9" width="2.5" height="2.5" fill="#fff"/>
<rect x="396.8" y="540.0" width="2.5" height="2.5" fill="#fff"/>
<rect x="393.1" y="544.8" width="6.8" height="6.0" fill="#ee9f80"/>
<rect x="393.7" y="545.4" width="2.5" height="2.1" fill="#fff"/>
<rect x="393.7" y="548.1" width="2.5" height="2.1" fill="#fff"/>
<rect x="396.8" y="545.4" width="2.5" height="2.1" fill="#fff"/>
<rect x="396.8" y="548.1" width="2.5" height="2.1" fill="#fff"/>
<rect x="368.1" y="536.3" width="7.6" height="7.6" fill="#ee9f80"/>
<rect x="368.7" y="536.9" width="2.9" height="2.9" fill="#fff"/>
<rect x="368.7" y="540.4" width="2.9" height="2.9" fill="#fff"/>
<rect x="372.2" y="536.9" width="2.9" height="2.9" fill="#fff"/>
<rect x="372.2" y="540.4" width="2.9" height="2.9" fill="#fff"/>
<rect x="368.1" y="546.5" width="7.6" height="6.8" fill="#ee9f80"/>
<rect x="368.7" y="547.1" width="2.9" height="2.5" fill="#fff"/>
<rect x="368.7" y="550.2" width="2.9" height="2.5" fill="#fff"/>
<rect x="372.2" y="547.1" width="2.9" height="2.5" fill="#fff"/>
<rect x="372.2" y="550.2" width="2.9" height="2.5" fill="#fff"/>
<rect x="406.7" y="536.3" width="7.6" height="7.6" fill="#ee9f80"/>
<rect x="407.3" y="536.9" width="2.9" height="2.9" fill="#fff"/>
<rect x="407.3" y="540.4" width="2.9" height="2.9" fill="#fff"/>
<rect x="410.8" y="536.9" width="2.9" height="2.9" fill="#fff"/>
<rect x="410.8" y="540.4" width="2.9" height="2.9" fill="#fff"/>
<rect x="406.7" y="546.5" width="7.6" height="6.8" fill="#ee9f80"/>
<rect x="407.3" y="547.1" width="2.9" height="2.5" fill="#fff"/>
<rect x="407.3" y="550.2" width="2.9" height="2.5" fill="#fff"/>
<rect x="410.8" y="547.1" width="2.9" height="2.5" fill="#fff"/>
<rect x="410.8" y="550.2" width="2.9" height="2.5" fill="#fff"/>
<path d="M385.5,561.8 V557.3 A5.4,5.2 0 0 1 396.3,557.3 V561.8Z" fill="#e0784f"/>
<path d="M390.3,515.1 V521.1" stroke="#777" stroke-width=".5"/>
<rect x="390.0" y="515.0" width="2.2" height="4.8" fill="#2b4fa0"/>
<rect x="392.2" y="515.0" width="2.6" height="4.8" fill="#ffffff"/>
<rect x="394.8" y="515.0" width="3.4" height="4.8" fill="#e03030"/>
<path d="M361.5,545.5 V561.8" stroke="#8a5a2a" stroke-width=".9"/>
<circle cx="361.1" cy="544.8" r="8.1" fill="#3aa5a8"/>
<path d="M361.5,546.0 V553.5" stroke="#8a5a2a" stroke-width=".9"/>
<rect x="527.8" y="514.0" width="12.2" height="26.9" fill="#c9bda8"/>
<rect x="566.9" y="514.0" width="12.2" height="26.9" fill="#c9bda8"/>
<path d="M526.8,514.1 L531.5,508.9 L544.5,508.9 L539.9,514.1Z" fill="#ee9f80"/>
<path d="M580.0,514.1 L575.3,508.9 L562.3,508.9 L566.9,514.1Z" fill="#ee9f80"/>
<path d="M553.4,500.0 L566.9,513.2 L566.9,540.9 L539.9,540.9 L539.9,513.2Z" fill="#dccfb6"/>
<path d="M538.9,514.2 L553.4,500.2 L567.9,514.2" fill="none" stroke="#c9694a" stroke-width="1"/>
<circle cx="553.4" cy="508.2" r="3.3" fill="#fff" stroke="#e59a78" stroke-width=".8"/>
<path d="M551.8,508.9 l3.4,-1.3" stroke="#5a4a3a" stroke-width=".9"/>
<rect x="544.7" y="515.6" width="6.7" height="6.7" fill="#ee9f80"/>
<rect x="545.3" y="516.2" width="2.5" height="2.5" fill="#fff"/>
<rect x="545.3" y="519.3" width="2.5" height="2.5" fill="#fff"/>
<rect x="548.3" y="516.2" width="2.5" height="2.5" fill="#fff"/>
<rect x="548.3" y="519.3" width="2.5" height="2.5" fill="#fff"/>
<rect x="544.7" y="524.1" width="6.7" height="5.9" fill="#ee9f80"/>
<rect x="545.3" y="524.7" width="2.5" height="2.1" fill="#fff"/>
<rect x="545.3" y="527.3" width="2.5" height="2.1" fill="#fff"/>
<rect x="548.3" y="524.7" width="2.5" height="2.1" fill="#fff"/>
<rect x="548.3" y="527.3" width="2.5" height="2.1" fill="#fff"/>
<rect x="555.6" y="515.6" width="6.7" height="6.7" fill="#ee9f80"/>
<rect x="556.2" y="516.2" width="2.5" height="2.5" fill="#fff"/>
<rect x="556.2" y="519.3" width="2.5" height="2.5" fill="#fff"/>
<rect x="559.2" y="516.2" width="2.5" height="2.5" fill="#fff"/>
<rect x="559.2" y="519.3" width="2.5" height="2.5" fill="#fff"/>
<rect x="555.6" y="524.1" width="6.7" height="5.9" fill="#ee9f80"/>
<rect x="556.2" y="524.7" width="2.5" height="2.1" fill="#fff"/>
<rect x="556.2" y="527.3" width="2.5" height="2.1" fill="#fff"/>
<rect x="559.2" y="524.7" width="2.5" height="2.1" fill="#fff"/>
<rect x="559.2" y="527.3" width="2.5" height="2.1" fill="#fff"/>
<rect x="530.8" y="515.6" width="7.5" height="7.5" fill="#ee9f80"/>
<rect x="531.4" y="516.2" width="2.9" height="2.9" fill="#fff"/>
<rect x="531.4" y="519.7" width="2.9" height="2.9" fill="#fff"/>
<rect x="534.9" y="516.2" width="2.9" height="2.9" fill="#fff"/>
<rect x="534.9" y="519.7" width="2.9" height="2.9" fill="#fff"/>
<rect x="530.8" y="525.7" width="7.5" height="6.7" fill="#ee9f80"/>
<rect x="531.4" y="526.3" width="2.9" height="2.5" fill="#fff"/>
<rect x="531.4" y="529.4" width="2.9" height="2.5" fill="#fff"/>
<rect x="534.9" y="526.3" width="2.9" height="2.5" fill="#fff"/>
<rect x="534.9" y="529.4" width="2.9" height="2.5" fill="#fff"/>
<rect x="569.0" y="515.6" width="7.5" height="7.5" fill="#ee9f80"/>
<rect x="569.6" y="516.2" width="2.9" height="2.9" fill="#fff"/>
<rect x="569.6" y="519.7" width="2.9" height="2.9" fill="#fff"/>
<rect x="573.1" y="516.2" width="2.9" height="2.9" fill="#fff"/>
<rect x="573.1" y="519.7" width="2.9" height="2.9" fill="#fff"/>
<rect x="569.0" y="525.7" width="7.5" height="6.7" fill="#ee9f80"/>
<rect x="569.6" y="526.3" width="2.9" height="2.5" fill="#fff"/>
<rect x="569.6" y="529.4" width="2.9" height="2.5" fill="#fff"/>
<rect x="573.1" y="526.3" width="2.9" height="2.5" fill="#fff"/>
<rect x="573.1" y="529.4" width="2.9" height="2.5" fill="#fff"/>
<path d="M548.1,540.9 V536.4 A5.3,5.1 0 0 1 558.7,536.4 V540.9Z" fill="#e0784f"/>
<path d="M552.8,494.7 V500.6" stroke="#777" stroke-width=".5"/>
<rect x="552.5" y="494.6" width="2.2" height="4.8" fill="#2b4fa0"/>
<rect x="554.7" y="494.6" width="2.6" height="4.8" fill="#ffffff"/>
<rect x="557.3" y="494.6" width="3.4" height="4.8" fill="#e03030"/>
<path d="M524.3,524.8 V540.9" stroke="#8a5a2a" stroke-width=".9"/>
<circle cx="523.9" cy="524.1" r="8.0" fill="#8fae3c"/>
<path d="M524.3,525.3 V532.7" stroke="#8a5a2a" stroke-width=".9"/>
<rect x="208.7" y="502.0" width="33.3" height="2.7" fill="#a5654d"/>
<rect x="211.5" y="510.0" width="27.5" height="2.5" fill="#a5654d"/>
<path d="M219.7,504.5 L208.7,517.9" fill="none" stroke="#a5654d" stroke-width="2.50" stroke-linecap="butt" stroke-linejoin="round"/>
<path d="M231.0,504.5 L242.0,517.9" fill="none" stroke="#a5654d" stroke-width="2.50" stroke-linecap="butt" stroke-linejoin="round"/>
<path d="M220.4,528.9 L221.1,522.3 L225.9,517.1 L232.1,516.2 L239.0,517.9 L242.8,523.0 L243.1,528.9Z" fill="#67924a"/>
<path d="M220.4,528.9 C220.7,527.7 220.7,523.7 221.8,521.6 C222.9,519.6 225.2,517.7 227.3,516.8 C229.4,516.0 232.0,516.0 234.2,516.4 C236.3,516.9 238.9,517.5 240.3,519.6 C241.8,521.7 242.6,527.4 243.1,528.9" fill="#67924a"/>
<path d="M234.9,528.9 C235.1,528.1 235.3,525.2 236.2,523.7 C237.1,522.3 238.7,520.9 240.3,520.3 C242.0,519.7 244.1,519.6 245.8,520.1 C247.6,520.7 249.9,522.0 251.1,523.4 C252.3,524.9 252.7,528.0 253.0,528.9" fill="#8fb03e"/>
<rect x="247.9" y="513.0" width="32.0" height="2.7" fill="#a5654d"/>
<rect x="250.7" y="520.3" width="27.5" height="2.7" fill="#a5654d"/>
<path d="M258.2,515.5 L250.2,522.6" fill="none" stroke="#a5654d" stroke-width="2.50" stroke-linecap="butt" stroke-linejoin="round"/>
<path d="M269.9,515.5 L280.5,528.5" fill="none" stroke="#a5654d" stroke-width="2.50" stroke-linecap="butt" stroke-linejoin="round"/>
<path d="M250.7,459.4 C252.6,459.6 254.9,461.5 256.8,463.2 C258.8,465.0 261.3,467.4 262.3,470.1 C263.4,472.9 263.8,476.5 263.3,479.7 C262.8,482.9 261.4,486.9 259.6,489.4 C257.8,491.8 254.7,493.7 252.7,494.6 C250.8,495.5 249.7,495.4 247.9,494.9 C246.1,494.3 243.6,493.1 241.7,491.4 C239.9,489.7 237.8,486.9 236.9,484.5 C236.0,482.1 235.8,479.7 236.2,477.0 C236.7,474.2 238.2,470.6 239.7,468.1 C241.1,465.5 243.3,463.3 245.2,461.9 C247.0,460.4 248.7,459.2 250.7,459.4Z" fill="#67924a"/>
<path d="M250.4,480.4 L250.4,512.7" fill="none" stroke="#3a2340" stroke-width="1.80" stroke-linecap="butt" stroke-linejoin="round"/>
<path d="M250.4,489.4 L246.1,484.5" fill="none" stroke="#3a2340" stroke-width="1.10" stroke-linecap="butt" stroke-linejoin="round"/>
<path d="M250.4,494.9 L253.4,491.0" fill="none" stroke="#3a2340" stroke-width="1.10" stroke-linecap="butt" stroke-linejoin="round"/>
<path d="M247.9,486.9 L247.2,484.5" fill="none" stroke="#3a2340" stroke-width="0.80" stroke-linecap="butt" stroke-linejoin="round"/>
<rect x="304.3" y="596.6" width="62.0" height="1.4" fill="#b9b5aa"/>
<rect x="304.3" y="597.8" width="62.0" height="5.2" fill="#e5c98f"/>
<rect x="307.0" y="603.0" width="27.0" height="7.5" fill="#e6e1d6"/>
<rect x="309.7" y="603.0" width="1.3" height="7.5" fill="#ffffff"/>
<rect x="318.6" y="603.0" width="1.3" height="7.5" fill="#ffffff"/>
<rect x="326.7" y="603.0" width="1.3" height="7.5" fill="#ffffff"/>
<rect x="333.6" y="603.0" width="1.3" height="7.5" fill="#ffffff"/>
<rect x="335.7" y="600.2" width="8.3" height="10.1" fill="#d9b877"/>
<rect x="337.1" y="600.2" width="5.8" height="3.6" fill="#caa35f"/>
<rect x="344.7" y="603.0" width="20.8" height="7.2" fill="#a5d0d0"/>
<rect x="349.7" y="602.0" width="2.2" height="8.3" fill="#ffffff"/>
<path d="M360.9,594.8 L379.2,589.4 L379.2,607.7 L367.2,607.7 L367.2,595.8Z" fill="#5d6660"/>
<path d="M378.8,589.4 L410.8,584.0 L410.8,597.8 L397.2,597.8 L397.2,610.4 L378.8,610.4Z" fill="#9a8878"/>
<path d="M383.3,592.4 L404.0,587.9 L404.0,591.5 L383.3,596.0Z" fill="#9fd0d0"/>
<path d="M381.0,598.0 L396.8,595.8" fill="none" stroke="#cdb897" stroke-width="0.80" stroke-linecap="butt" stroke-linejoin="round"/>
<path d="M381.0,600.5 L396.8,598.4" fill="none" stroke="#cdb897" stroke-width="0.80" stroke-linecap="butt" stroke-linejoin="round"/>
<path d="M381.0,603.0 L396.8,600.9" fill="none" stroke="#cdb897" stroke-width="0.80" stroke-linecap="butt" stroke-linejoin="round"/>
<path d="M381.0,605.5 L396.8,603.4" fill="none" stroke="#cdb897" stroke-width="0.80" stroke-linecap="butt" stroke-linejoin="round"/>
<rect x="367.2" y="607.3" width="30.0" height="4.7" fill="#b5d8d8"/>
<rect x="396.8" y="596.6" width="26.1" height="15.5" fill="#f5dc9a"/>
<rect x="396.8" y="597.5" width="7.2" height="14.6" fill="#e5c98f"/>
<path d="M292.6,594.8 C287.6,606.0 288.2,617.2 292.6,617.2 C296.9,617.2 297.5,606.0 292.6,594.8 Z" fill="#3cb878"/>
<path d="M292.6,600.4 L292.6,622.6" fill="none" stroke="#1f3a6b" stroke-width="0.90" stroke-linecap="butt" stroke-linejoin="round"/>
<path d="M299.8,589.7 C292.6,603.5 293.4,617.2 299.8,617.2 C306.1,617.2 307.0,603.5 299.8,589.7 Z" fill="#2b7f7c"/>
<path d="M299.8,596.6 L299.8,622.6" fill="none" stroke="#1f3a6b" stroke-width="0.90" stroke-linecap="butt" stroke-linejoin="round"/>
<path d="M425.9,593.0 C418.7,606.0 419.6,619.0 425.9,619.0 C432.2,619.0 433.1,606.0 425.9,593.0 Z" fill="#2b7f7c"/>
<path d="M425.9,599.5 L425.9,625.7" fill="none" stroke="#1f3a6b" stroke-width="0.90" stroke-linecap="butt" stroke-linejoin="round"/>
<path d="M417.5,610.9 L417.5,625.7" fill="none" stroke="#8a5a2a" stroke-width="0.90" stroke-linecap="butt" stroke-linejoin="round"/>
<circle cx="417.5" cy="610.0" r="7.5" fill="#3cb878"/>
<path d="M417.5,611.8 L417.5,618.1" fill="none" stroke="#8a5a2a" stroke-width="0.90" stroke-linecap="butt" stroke-linejoin="round"/>
<rect x="328.2" y="629.8" width="57.0" height="2.7" fill="#a5604a"/>
<rect x="328.2" y="633.9" width="57.0" height="2.7" fill="#a5604a"/>
<rect x="328.2" y="638.3" width="57.0" height="2.7" fill="#a5604a"/>
<rect x="331.2" y="629.8" width="2.2" height="17.1" fill="#a5604a"/>
<rect x="379.7" y="629.8" width="2.2" height="17.1" fill="#a5604a"/>
<rect x="324.9" y="646.9" width="62.9" height="3.2" fill="#a5604a"/>
<rect x="326.4" y="650.1" width="2.5" height="13.3" fill="#a5604a"/>
<rect x="382.4" y="650.1" width="2.7" height="13.3" fill="#a5604a"/>
<path d="M331.2,646.0 L333.9,642.4 L353.7,643.3 L354.6,661.3 L346.8,661.3 L345.6,650.5 L340.2,650.5 L338.9,661.3 L332.1,661.3Z" fill="#a5cfc8"/>
<path d="M332.5,628.9 L337.1,626.2 L349.2,626.2 L353.3,629.8 L354.0,645.1 L350.1,646.0 L349.2,639.7 L336.6,640.6 L334.8,646.0 L331.8,644.2Z" fill="#ffffff"/>
<path d="M335.7,627.5 L342.0,626.2 L349.7,627.5 L349.7,642.4 L335.7,642.9Z" fill="#3a4a55"/>
<path d="M340.7,626.2 L342.9,628.6 L345.1,626.2Z" fill="#ffffff"/>
<circle cx="343.1" cy="622.6" r="3.8" fill="#e39478"/>
<path d="M338.9,621.4 L340.0,618.5 L342.9,617.8 L346.1,618.5 L347.2,621.4 L345.8,619.9 L340.4,619.9Z" fill="#f1f1ee"/>
<rect x="340.4" y="621.4" width="5.4" height="1.4" fill="#7aa5c0" rx="2.0"/>
<rect x="331.2" y="660.9" width="8.4" height="2.3" fill="#1f2f45" rx="3.0"/>
<rect x="346.5" y="660.9" width="8.6" height="2.3" fill="#1f2f45" rx="3.0"/>
<path d="M333.0,644.2 L342.0,646.0 L344.7,640.6" fill="none" stroke="#3a4a55" stroke-width="1.00" stroke-linecap="butt" stroke-linejoin="round"/>
<path d="M359.1,642.9 L376.1,642.4 L376.7,650.5 L373.4,652.6 L362.7,652.6 L359.4,650.5Z" fill="#a5cfc8"/>
<path d="M363.0,652.3 L366.3,652.3 L365.9,659.5 L363.4,659.5Z" fill="#e39478"/>
<path d="M369.5,652.3 L373.1,652.3 L372.4,659.5 L369.9,659.5Z" fill="#e39478"/>
<path d="M359.1,628.9 L363.0,627.1 L371.6,627.1 L376.1,629.8 L377.0,641.5 L373.8,642.9 L373.1,637.9 L362.3,638.3 L361.2,642.9 L358.4,641.1Z" fill="#ffffff"/>
<path d="M361.2,628.0 L367.2,629.3 L373.4,628.0 L373.8,639.7 L361.2,640.1Z" fill="#4f9a8a"/>
<circle cx="367.3" cy="623.5" r="3.4" fill="#e39478"/>
<path d="M363.4,623.9 L363.0,619.9 L364.8,617.4 L367.7,616.3 L370.2,617.8 L371.3,620.6 L370.9,623.2 L369.5,621.0 L365.2,621.0Z" fill="#b9b8aa"/>
<rect x="363.0" y="659.1" width="3.2" height="1.8" fill="#ffffff"/>
<rect x="369.5" y="659.1" width="3.2" height="1.8" fill="#ffffff"/>
<rect x="360.5" y="660.7" width="6.1" height="2.3" fill="#1f2f45" rx="3.0"/>
<rect x="369.1" y="660.7" width="5.8" height="2.3" fill="#1f2f45" rx="3.0"/>
<path d="M368.4,641.1 L368.4,662.3" fill="none" stroke="#8a8a85" stroke-width="0.80" stroke-linecap="butt" stroke-linejoin="round"/>
<circle cx="366.3" cy="641.8" r="1.3" fill="#e39478"/>
<circle cx="369.9" cy="641.8" r="1.3" fill="#e39478"/>
<path d="M381.5,467.5 A3.2,3.2 0 0 1 386.6,468.6 A3.0,3.0 0 0 1 390.3,471.6 A2.7,2.7 0 0 1 391.7,475.8 A2.7,2.7 0 0 1 390.3,479.9 A3.0,3.0 0 0 1 386.6,482.9 A3.2,3.2 0 0 1 381.5,484.0 A3.2,3.2 0 0 1 376.4,482.9 A3.0,3.0 0 0 1 372.7,479.9 A2.7,2.7 0 0 1 371.3,475.8 A2.7,2.7 0 0 1 372.7,471.6 A3.0,3.0 0 0 1 376.4,468.6 A3.2,3.2 0 0 1 381.5,467.5Z" fill="#5f9b79"/>
<path d="M380.9,483.3 V487.9" stroke="#3a2340" stroke-width="1.4"/>
<path d="M381.2,488.3 C381.2,483.0 383.7,482.3 385.0,483.2 C385.7,477.3 390.5,477.3 390.8,484.0 C392.3,483.0 393.8,484.5 393.8,488.3 Z" fill="#6f9a4a"/>
<path d="M390.2,488.3 C390.2,484.5 392.6,484.0 393.8,484.6 C394.5,480.3 399.1,480.3 399.4,485.2 C400.8,484.5 402.2,485.5 402.2,488.3 Z" fill="#8fb04a"/>
<path d="M427.9,463.6 C429.6,463.6 431.7,464.1 433.0,464.9 C434.2,465.7 435.1,467.4 435.5,468.7 C435.9,470.0 435.1,471.6 435.5,472.7 C435.9,473.8 437.2,473.9 438.0,475.2 C438.8,476.6 440.2,478.9 440.5,480.7 C440.8,482.6 440.6,485.0 439.8,486.3 C438.9,487.6 437.5,488.1 435.5,488.5 C433.5,489.0 430.5,488.8 427.9,488.8 C425.4,488.8 422.4,489.0 420.4,488.5 C418.4,488.1 417.0,487.6 416.1,486.3 C415.3,485.0 415.1,482.6 415.4,480.7 C415.7,478.9 417.0,476.6 417.9,475.2 C418.7,473.9 420.0,473.8 420.4,472.7 C420.8,471.6 420.0,470.0 420.4,468.7 C420.8,467.4 421.6,465.7 422.9,464.9 C424.2,464.1 426.3,463.6 427.9,463.6Z" fill="#90b16a"/>
<path d="M427.9,487.8 V490.6" stroke="#3a2340" stroke-width="1.4"/>
<g transform="translate(537.10 189.70) rotate(19.2) scale(0.934) translate(-4.10 -14.70)" fill="none" stroke="#135a49" stroke-width="1.5" stroke-linecap="round" stroke-linejoin="round">
<circle cx="4.1" cy="14.7" r="3.45"/><circle cx="16.28" cy="14.19" r="3.45"/><circle cx="13.06" cy="2.25" r="1.5" stroke-width="1.7"/>
<path d="M14.9,7.45 L13.2,7.35 L11.2,5.1 Q10,4.6 9.2,5.55 L6.8,8.25 L10.2,10.65 L10.1,14.9 M14.9,7.45 L16.35,14"/>
</g>
<g transform="translate(574.50 415.60) rotate(-88.6) scale(0.952) translate(-4.10 -14.70)" fill="none" stroke="#135a49" stroke-width="1.5" stroke-linecap="round" stroke-linejoin="round">
<circle cx="4.1" cy="14.7" r="3.45"/><circle cx="16.28" cy="14.19" r="3.45"/><circle cx="13.06" cy="2.25" r="1.5" stroke-width="1.7"/>
<path d="M14.9,7.45 L13.2,7.35 L11.2,5.1 Q10,4.6 9.2,5.55 L6.8,8.25 L10.2,10.65 L10.1,14.9 M14.9,7.45 L16.35,14"/>
</g>
<g transform="translate(709.20 357.00) rotate(15.2) scale(0.959) translate(-4.10 -14.70)" fill="none" stroke="#135a49" stroke-width="1.5" stroke-linecap="round" stroke-linejoin="round">
<circle cx="4.1" cy="14.7" r="3.45"/><circle cx="16.28" cy="14.19" r="3.45"/><circle cx="13.06" cy="2.25" r="1.5" stroke-width="1.7"/>
<path d="M14.9,7.45 L13.2,7.35 L11.2,5.1 Q10,4.6 9.2,5.55 L6.8,8.25 L10.2,10.65 L10.1,14.9 M14.9,7.45 L16.35,14"/>
</g>
<g transform="translate(292.80 486.90) rotate(-0.4) scale(0.994) translate(-4.10 -14.70)" fill="none" stroke="#135a49" stroke-width="1.5" stroke-linecap="round" stroke-linejoin="round">
<circle cx="4.1" cy="14.7" r="3.45"/><circle cx="16.28" cy="14.19" r="3.45"/><circle cx="13.06" cy="2.25" r="1.5" stroke-width="1.7"/>
<path d="M14.9,7.45 L13.2,7.35 L11.2,5.1 Q10,4.6 9.2,5.55 L6.8,8.25 L10.2,10.65 L10.1,14.9 M14.9,7.45 L16.35,14"/>
</g>
<g transform="translate(507.80 477.80) rotate(-0.6) scale(0.936) translate(-4.10 -14.70)" fill="none" stroke="#135a49" stroke-width="1.5" stroke-linecap="round" stroke-linejoin="round">
<circle cx="4.1" cy="14.7" r="3.45"/><circle cx="16.28" cy="14.19" r="3.45"/><circle cx="13.06" cy="2.25" r="1.5" stroke-width="1.7"/>
<path d="M14.9,7.45 L13.2,7.35 L11.2,5.1 Q10,4.6 9.2,5.55 L6.8,8.25 L10.2,10.65 L10.1,14.9 M14.9,7.45 L16.35,14"/>
</g>
<g transform="translate(469.80 637.00) rotate(13.2) scale(0.960) translate(-4.10 -14.70)" fill="none" stroke="#135a49" stroke-width="1.5" stroke-linecap="round" stroke-linejoin="round">
<circle cx="4.1" cy="14.7" r="3.45"/><circle cx="16.28" cy="14.19" r="3.45"/><circle cx="13.06" cy="2.25" r="1.5" stroke-width="1.7"/>
<path d="M14.9,7.45 L13.2,7.35 L11.2,5.1 Q10,4.6 9.2,5.55 L6.8,8.25 L10.2,10.65 L10.1,14.9 M14.9,7.45 L16.35,14"/>
</g>
<circle cx="254.2" cy="119.0" r="16.7" fill="none" stroke="#b5603a" stroke-width="1.9"/>
<circle cx="254.2" cy="119.0" r="14.7" fill="none" stroke="#eadcc6" stroke-width="2.0"/>
<path d="M254.2,119.0L267.9,119.0M254.2,119.0L267.5,122.3M254.2,119.0L266.3,125.4M254.2,119.0L264.4,128.1M254.2,119.0L261.9,130.3M254.2,119.0L259.0,131.8M254.2,119.0L255.8,132.6M254.2,119.0L252.5,132.6M254.2,119.0L249.3,131.8M254.2,119.0L246.4,130.3M254.2,119.0L243.9,128.1M254.2,119.0L242.0,125.4M254.2,119.0L240.9,122.3M254.2,119.0L240.5,119.0M254.2,119.0L240.9,115.8M254.2,119.0L242.0,112.7M254.2,119.0L243.9,110.0M254.2,119.0L246.4,107.8M254.2,119.0L249.3,106.2M254.2,119.0L252.5,105.4M254.2,119.0L255.8,105.4M254.2,119.0L259.0,106.2M254.2,119.0L261.9,107.8M254.2,119.0L264.4,110.0M254.2,119.0L266.3,112.7M254.2,119.0L267.5,115.8" stroke="#1f4a4d" stroke-width="0.95" fill="none"/>
<circle cx="254.2" cy="119.0" r="2.6" fill="#1f4a4d"/>
<circle cx="212.5" cy="154.6" r="16.7" fill="none" stroke="#b5603a" stroke-width="1.9"/>
<circle cx="212.5" cy="154.6" r="14.7" fill="none" stroke="#eadcc6" stroke-width="2.0"/>
<path d="M212.5,154.6L226.2,154.6M212.5,154.6L225.8,157.9M212.5,154.6L224.6,161.0M212.5,154.6L222.8,163.7M212.5,154.6L220.3,165.9M212.5,154.6L217.4,167.4M212.5,154.6L214.2,168.2M212.5,154.6L210.8,168.2M212.5,154.6L207.6,167.4M212.5,154.6L204.7,165.9M212.5,154.6L202.2,163.7M212.5,154.6L200.4,161.0M212.5,154.6L199.2,157.9M212.5,154.6L198.8,154.6M212.5,154.6L199.2,151.3M212.5,154.6L200.4,148.2M212.5,154.6L202.2,145.5M212.5,154.6L204.7,143.3M212.5,154.6L207.6,141.8M212.5,154.6L210.8,141.0M212.5,154.6L214.2,141.0M212.5,154.6L217.4,141.8M212.5,154.6L220.3,143.3M212.5,154.6L222.8,145.5M212.5,154.6L224.6,148.2M212.5,154.6L225.8,151.3" stroke="#1f4a4d" stroke-width="0.95" fill="none"/>
<circle cx="212.5" cy="154.6" r="2.6" fill="#1f4a4d"/>
<path d="M210.2,117.1 L216.9,115.5 L218.6,122.3 L214.1,125.2Z" fill="#c9775a"/>
<path d="M209.5,125.9 L212.5,154.6" fill="none" stroke="#3f4d5e" stroke-width="3.00" stroke-linecap="butt" stroke-linejoin="round"/>
<path d="M212.5,154.6 L233.6,138.6" fill="none" stroke="#3f4d5e" stroke-width="3.20" stroke-linecap="butt" stroke-linejoin="round"/>
<path d="M232.9,106.7 L254.2,119.0" fill="none" stroke="#3f4d5e" stroke-width="2.80" stroke-linecap="butt" stroke-linejoin="round"/>
<path d="M233.6,138.6 L232.9,107.3" fill="none" stroke="#3f4d5e" stroke-width="5.00" stroke-linecap="butt" stroke-linejoin="round"/>
<path d="M232.9,107.3 L222.9,135.3 L209.6,125.9" fill="none" stroke="#3f4d5e" stroke-width="3.80" stroke-linecap="butt" stroke-linejoin="round"/>
<circle cx="234.2" cy="139.0" r="5.5" fill="#2a4a55"/>
<circle cx="234.2" cy="139.0" r="3.9" fill="none" stroke="#3f6068" stroke-width="0.60"/>
<path d="M234.2,139.0 L244.7,143.8" fill="none" stroke="#2a4a55" stroke-width="1.60" stroke-linecap="butt" stroke-linejoin="round"/>
<path d="M243.0,141.8 L246.4,146.0" fill="none" stroke="#2a4a55" stroke-width="2.20" stroke-linecap="butt" stroke-linejoin="round"/>
<path d="M232.3,105.6 L225.1,99.1" fill="none" stroke="#e8d9c0" stroke-width="2.00" stroke-linecap="butt" stroke-linejoin="round"/>
<path d="M227.7,95.6 L232.0,97.0" fill="none" stroke="#2a4a55" stroke-width="2.00" stroke-linecap="round" stroke-linejoin="round"/>
<rect x="206.9" y="124.2" width="5.9" height="2.0" fill="#e8d9c0"/>
<path d="M205.2,110.3 L217.3,103.8 L221.6,106.4 L227.7,129.8 L223.4,131.4 L218.0,114.5 L210.4,118.1Z" fill="#e08a68"/>
<path d="M222.5,130.8 L228.1,129.5 L228.9,132.7 L223.4,134.3Z" fill="#e8d9c0"/>
<path d="M189.6,116.4 L205.6,109.5 L210.4,117.1 L203.4,123.1 L195.8,125.2 L191.7,122.3Z" fill="#22664d"/>
<path d="M188.4,91.0 L195.8,91.7 L207.6,96.2 L208.3,100.8 L203.0,103.0 L201.7,110.6 L190.4,116.8 L187.4,104.1Z" fill="#7cbcb0"/>
<path d="M207.8,96.6 L224.5,96.9 L226.4,98.2 L224.7,100.2 L208.3,100.4Z" fill="#e08a68"/>
<path d="M189.1,80.6 L193.2,80.4 L194.8,84.5 L194.5,88.4 L190.6,89.7 L188.7,87.8Z" fill="#e08a68"/>
<path d="M183.5,83.2 L185.4,78.7 L190.0,77.4 L192.2,79.3 L189.6,81.7 L189.6,88.4 L187.8,89.7 L184.8,87.8Z" fill="#4a3a30"/>
<path d="M190.4,84.5 L194.5,83.5 L195.8,85.8 L194.5,88.4 L190.9,89.2Z" fill="#3a2e28"/>
<rect x="267.2" y="234.0" width="3.6" height="6.8" fill="#a9a8a0"/>
<circle cx="269.8" cy="234.3" r="1.0" fill="#cfccc0"/>
<path d="M250.8,240.8 L284.6,240.8 L285.6,244.2 L285.6,249.8 L276.1,250.5 L269.4,257.0 L259.2,257.0 L259.2,248.8 L255.8,241.2Z" fill="#3aada8"/>
<path d="M238.9,226.8 L259.9,226.8 L263.9,240.4 L263.6,246.5 L259.2,246.0 L255.8,240.4 L238.5,240.0Z" fill="#e8e4d8"/>
<path d="M241.9,236.1 L247.4,227.7" fill="none" stroke="#ffffff" stroke-width="1.20" stroke-linecap="butt" stroke-linejoin="round"/>
<path d="M254.1,237.8 L259.2,231.1" fill="none" stroke="#ffffff" stroke-width="1.20" stroke-linecap="butt" stroke-linejoin="round"/>
<path d="M238.3,226.8 L237.9,240.0" fill="none" stroke="#a5603a" stroke-width="0.90" stroke-linecap="butt" stroke-linejoin="round"/>
<path d="M250.1,226.8 L250.1,240.4" fill="none" stroke="#a5603a" stroke-width="1.10" stroke-linecap="butt" stroke-linejoin="round"/>
<path d="M259.9,226.8 L263.9,240.4 L263.6,246.5 L259.2,246.0 L255.8,240.4 L249.9,240.2" fill="none" stroke="#a5603a" stroke-width="0.80" stroke-linecap="butt" stroke-linejoin="round"/>
<rect x="237.1" y="223.9" width="24.9" height="3.0" fill="#a8512e"/>
<rect x="268.9" y="244.6" width="10.1" height="1.3" fill="#1f3450"/>
<rect x="268.9" y="247.6" width="5.5" height="1.3" fill="#1f3450"/>
<rect x="282.0" y="244.2" width="2.7" height="5.5" fill="#ffffff"/>
<rect x="284.4" y="244.2" width="1.4" height="5.5" fill="#1f3450"/>
<rect x="255.8" y="256.9" width="14.8" height="4.0" fill="#a9a8a0"/>
<rect x="288.8" y="256.9" width="2.1" height="4.0" fill="#a9a8a0"/>
<path d="M232.1,244.4 A16.3,16.3 0 0 1 259.2,256.4" fill="none" stroke="#5f7a8a" stroke-width="1.9"/>
<path d="M270.0,260.7 A10.6,10.6 0 0 1 287.5,252.6" fill="none" stroke="#5f7a8a" stroke-width="1.5"/>
<circle cx="243.1" cy="256.3" r="13.2" fill="#3a4a42"/>
<circle cx="243.1" cy="256.3" r="13.2" fill="none" stroke="#3a4a42" stroke-width="2.0" stroke-dasharray="2.26 1.50"/>
<circle cx="243.1" cy="256.3" r="6.9" fill="#e8e4d5"/>
<circle cx="243.1" cy="256.3" r="2.3" fill="#3a4a60"/>
<circle cx="280.4" cy="261.1" r="8.6" fill="#3a4a42"/>
<circle cx="280.4" cy="261.1" r="8.6" fill="none" stroke="#3a4a42" stroke-width="1.3" stroke-dasharray="1.79 1.19"/>
<circle cx="280.4" cy="261.1" r="4.5" fill="#e8e4d5"/>
<circle cx="280.4" cy="261.1" r="2.3" fill="#3a4a60"/>
<path d="M665.1,83.2 C663.9,82.5 654.6,83.2 665.1,83.2 C675.7,83.2 697.6,83.1 722.7,83.0 C747.7,83.0 787.3,82.9 801.8,82.9 C816.3,82.8 803.3,82.3 801.8,82.9 C800.3,83.4 798.9,85.1 793.7,85.9 C788.5,86.8 779.2,87.1 773.4,87.4 C767.6,87.8 763.6,87.4 761.9,87.9 C760.2,88.5 760.1,90.0 764.1,90.7 C768.1,91.3 779.0,90.9 783.5,91.3 C788.0,91.7 788.8,92.2 788.6,92.9 C788.5,93.5 788.6,94.2 782.7,94.7 C776.8,95.2 763.0,95.1 756.5,95.6 C750.0,96.1 748.4,96.3 747.2,97.4 C746.0,98.5 748.4,100.1 750.1,101.5 C751.7,102.8 756.0,103.8 756.1,104.7 C756.3,105.6 754.4,105.8 751.1,106.2 C747.8,106.6 740.9,106.5 738.2,106.9 C735.5,107.3 735.7,107.9 736.5,108.4 C737.4,109.0 742.0,109.3 742.9,109.9 C743.9,110.6 743.1,111.3 741.6,111.8 C740.0,112.3 735.9,112.1 734.5,112.6 C733.1,113.2 731.5,114.4 734.2,115.0 C736.8,115.6 745.4,115.1 748.9,116.0 C752.3,117.0 752.8,118.6 753.1,120.1 C753.4,121.6 753.8,123.4 750.7,124.3 C747.6,125.2 746.3,125.3 736.2,125.2 C726.1,125.0 703.5,124.4 695.6,123.6 C687.7,122.9 693.0,121.9 693.1,121.1 C693.1,120.3 691.8,119.7 695.9,119.2 C700.1,118.7 711.4,118.9 715.5,118.4 C719.7,117.9 718.5,117.2 718.6,116.4 C718.7,115.5 718.6,114.3 716.2,113.7 C713.9,113.0 712.9,113.1 705.7,113.0 C698.6,112.9 682.8,113.2 677.3,113.0 C671.9,112.7 675.6,112.7 676.1,111.6 C676.7,110.5 677.6,108.1 680.4,107.1 C683.1,106.0 688.7,106.4 691.0,105.7 C693.4,105.0 693.2,104.1 693.2,103.2 C693.3,102.3 693.9,101.4 691.2,100.8 C688.5,100.2 681.4,100.3 678.7,99.8 C675.9,99.2 676.3,98.3 676.1,97.8 C676.0,97.2 672.4,97.0 677.8,96.7 C683.3,96.5 699.7,96.7 705.7,96.4 C711.8,96.2 710.1,95.9 710.8,95.4 C711.5,94.9 710.9,94.1 709.5,93.7 C708.0,93.3 704.1,93.5 702.7,93.0 C701.3,92.6 701.7,92.0 702.0,91.3 C702.3,90.7 702.8,90.2 704.4,89.6 C706.0,89.1 710.0,88.8 710.8,88.3 C711.6,87.8 712.8,87.3 708.8,87.1 C704.8,86.9 695.6,87.1 688.8,87.1 C682.1,87.1 676.3,87.6 671.9,86.9 C667.6,86.2 666.4,83.9 665.1,83.2Z" fill="#a5dadf"/>
<path d="M687.6,44.3 L687.6,58.4" fill="none" stroke="#7c7c7c" stroke-width="0.80" stroke-linecap="butt" stroke-linejoin="round"/>
<path d="M720.1,40.3 L720.1,65.1" fill="none" stroke="#7c7c7c" stroke-width="0.80" stroke-linecap="butt" stroke-linejoin="round"/>
<path d="M731.1,41.9 L731.1,56.7" fill="none" stroke="#7c7c7c" stroke-width="0.80" stroke-linecap="butt" stroke-linejoin="round"/>
<path d="M755.1,58.4 L755.1,77.0" fill="none" stroke="#7c7c7c" stroke-width="0.80" stroke-linecap="butt" stroke-linejoin="round"/>
<path d="M676.0,83.0 Q677.2,61.4 683.1,48.2 Q681.8,61.4 680.6,83.0Z" fill="#6a9a3a"/>
<path d="M680.8,83.0 Q685.0,60.1 700.0,46.0 Q689.3,60.1 685.1,83.0Z" fill="#6a9a3a"/>
<path d="M687.1,83.0 Q686.9,66.2 688.2,55.8 Q690.4,66.2 690.6,83.0Z" fill="#6a9a3a"/>
<path d="M691.7,83.0 Q692.7,67.0 697.6,57.2 Q696.4,67.0 695.4,83.0Z" fill="#6a9a3a"/>
<path d="M696.5,83.0 Q698.9,59.5 708.4,45.0 Q703.2,59.5 700.8,83.0Z" fill="#6a9a3a"/>
<path d="M701.5,83.0 Q701.5,63.0 703.4,50.7 Q705.0,63.0 704.9,83.0Z" fill="#6a9a3a"/>
<path d="M706.8,83.0 Q703.5,63.2 695.6,51.1 Q707.5,63.2 710.8,83.0Z" fill="#6a9a3a"/>
<path d="M710.0,83.0 Q713.1,61.5 724.3,48.4 Q717.4,61.5 714.3,83.0Z" fill="#6a9a3a"/>
<path d="M714.9,83.0 Q713.5,64.3 711.2,52.8 Q717.2,64.3 718.6,83.0Z" fill="#6a9a3a"/>
<path d="M719.1,83.0 Q721.4,58.4 730.4,43.3 Q725.7,58.4 723.5,83.0Z" fill="#6a9a3a"/>
<path d="M724.4,83.0 Q726.9,62.0 736.5,49.0 Q730.9,62.0 728.4,83.0Z" fill="#6a9a3a"/>
<path d="M729.6,83.0 Q727.5,67.4 723.0,57.8 Q731.2,67.4 733.3,83.0Z" fill="#6a9a3a"/>
<path d="M734.3,83.0 Q735.0,65.1 738.9,54.1 Q738.7,65.1 738.1,83.0Z" fill="#6a9a3a"/>
<path d="M738.7,83.0 Q736.4,67.4 731.4,57.8 Q739.9,67.4 742.1,83.0Z" fill="#6a9a3a"/>
<path d="M704.0,83.0 Q706.1,66.2 714.2,55.8 Q709.6,66.2 707.5,83.0Z" fill="#6a9a3a"/>
<path d="M694.0,83.0 Q696.5,63.0 705.7,50.7 Q699.7,63.0 697.2,83.0Z" fill="#6a9a3a"/>
<path d="M723.6,83.0 Q722.1,65.1 719.3,54.1 Q725.3,65.1 726.8,83.0Z" fill="#6a9a3a"/>
<path d="M732.8,83.0 Q731.5,63.0 729.4,50.7 Q734.9,63.0 736.2,83.0Z" fill="#6a9a3a"/>
<path d="M751.4,83.0 Q750.6,76.1 750.1,71.9 Q754.1,76.1 754.8,83.0Z" fill="#6a9a3a"/>
<path d="M678.6,83.0 Q680.1,65.1 686.3,54.1 Q683.6,65.1 682.1,83.0Z" fill="#6a9a3a"/>
<path d="M684.6,83.0 Q686.5,63.0 693.9,50.7 Q689.9,63.0 688.0,83.0Z" fill="#6a9a3a"/>
<path d="M698.9,83.0 Q698.6,61.4 699.3,48.2 Q702.1,61.4 702.4,83.0Z" fill="#6a9a3a"/>
<path d="M712.5,83.0 Q713.4,63.0 717.9,50.7 Q716.9,63.0 715.9,83.0Z" fill="#6a9a3a"/>
<path d="M727.7,83.0 Q728.6,63.0 733.1,50.7 Q732.1,63.0 731.1,83.0Z" fill="#6a9a3a"/>
<path d="M737.1,83.0 Q737.9,68.3 741.6,59.2 Q741.0,68.3 740.3,83.0Z" fill="#6a9a3a"/>
<path d="M689.4,83.0 Q689.8,69.3 693.1,60.9 Q693.8,69.3 693.4,83.0Z" fill="#6a9a3a"/>
<path d="M704.6,83.0 Q705.1,69.3 708.8,60.9 Q709.1,69.3 708.6,83.0Z" fill="#6a9a3a"/>
<path d="M718.1,83.0 Q718.5,68.3 721.8,59.2 Q722.6,68.3 722.1,83.0Z" fill="#6a9a3a"/>
<path d="M730.8,83.0 Q731.2,69.3 734.5,60.9 Q735.2,69.3 734.8,83.0Z" fill="#6a9a3a"/>
<path d="M755.1,83.0 L758.5,67.7 L762.4,61.2 L766.6,60.2 L771.4,74.4 L769.3,73.1 L764.6,65.1 L761.2,71.0 L758.5,83.0Z" fill="#6a9a3a"/>
<rect x="685.1" y="25.4" width="4.9" height="19.5" fill="#a5664e" rx="2.5"/>
<rect x="687.1" y="23.3" width="1.0" height="2.7" fill="#a5664e"/>
<rect x="715.0" y="11.0" width="7.3" height="29.6" fill="#a5664e" rx="3.6"/>
<rect x="718.2" y="9.0" width="1.0" height="2.7" fill="#a5664e"/>
<rect x="729.4" y="22.8" width="5.1" height="19.5" fill="#a5664e" rx="2.5"/>
<rect x="731.4" y="20.8" width="1.0" height="2.7" fill="#a5664e"/>
<rect x="752.3" y="34.7" width="5.4" height="24.2" fill="#a5664e" rx="2.7"/>
<rect x="754.5" y="32.6" width="1.0" height="2.7" fill="#a5664e"/>
<circle cx="785.7" cy="188.7" r="10.1" fill="none" stroke="#1f3f6f" stroke-width="1.35"/>
<circle cx="785.7" cy="188.7" r="2.2" fill="none" stroke="#26314f" stroke-width="0.70"/>
<circle cx="819.8" cy="188.7" r="10.1" fill="none" stroke="#1f3f6f" stroke-width="1.35"/>
<circle cx="819.8" cy="188.7" r="2.2" fill="none" stroke="#26314f" stroke-width="0.70"/>
<path d="M801.2,178.0 L805.0,178.9 L806.5,188.0 L803.9,188.2Z" fill="#d97a58"/>
<path d="M793.3,170.3 L785.7,188.7" fill="none" stroke="#3fc070" stroke-width="1.10" stroke-linecap="butt" stroke-linejoin="round"/>
<path d="M792.6,172.6 L806.2,177.1" fill="none" stroke="#3fc070" stroke-width="3.60" stroke-linecap="butt" stroke-linejoin="round"/>
<path d="M806.2,177.1 L805.8,189.3" fill="none" stroke="#3fc070" stroke-width="1.40" stroke-linecap="butt" stroke-linejoin="round"/>
<path d="M805.8,189.3 L819.8,188.7" fill="none" stroke="#3fc070" stroke-width="1.30" stroke-linecap="butt" stroke-linejoin="round"/>
<path d="M807.6,182.1 L819.8,188.7" fill="none" stroke="#3fc070" stroke-width="1.10" stroke-linecap="butt" stroke-linejoin="round"/>
<circle cx="805.8" cy="189.3" r="2.7" fill="#3fc070"/>
<path d="M791.4,169.7 L794.4,170.9" fill="none" stroke="#2f9a5a" stroke-width="1.20" stroke-linecap="round" stroke-linejoin="round"/>
<path d="M806.5,175.7 L811.9,176.4 L810.5,190.9 L807.2,190.9Z" fill="#f08f6a"/>
<path d="M805.6,190.9 L810.7,190.5 L811.2,193.4 L805.9,194.1Z" fill="#1f3460"/>
<path d="M806.2,194.3 L810.7,193.8" fill="none" stroke="#3fc070" stroke-width="0.90" stroke-linecap="butt" stroke-linejoin="round"/>
<path d="M807.6,163.3 L817.2,163.0 L816.8,169.9 L811.9,176.8 L801.4,173.0Z" fill="#1f3460"/>
<path d="M813.5,163.7 L809.2,175.3" fill="none" stroke="#ffffff" stroke-width="0.90" stroke-linecap="butt" stroke-linejoin="round"/>
<path d="M815.4,163.7 L811.0,175.7" fill="none" stroke="#ffffff" stroke-width="0.90" stroke-linecap="butt" stroke-linejoin="round"/>
<path d="M801.2,150.7 L806.8,148.6 L813.0,153.7 L816.8,162.8 L807.6,164.2 L805.0,161.0 L798.3,166.4 L794.7,165.0 L800.3,156.4Z" fill="#9fd0de"/>
<path d="M791.8,168.0 L794.9,165.5 L796.9,166.4 L794.9,170.3 L792.2,170.3Z" fill="#f08f6a"/>
<path d="M796.2,146.8 L801.2,146.1 L801.7,150.7 L799.0,151.9 L796.5,150.4Z" fill="#f08f6a"/>
<path d="M795.3,143.6 L796.9,140.7 L800.8,139.8 L804.7,141.3 L805.6,144.5 L804.1,148.6 L802.1,149.0 L801.7,146.3 L797.6,146.1Z" fill="#1f3f6f"/>
<path d="M476.8,752.4 L506.8,747.4 L506.8,777.2 L491.3,775.0Z" fill="#ffffff" stroke="#3a2a4a" stroke-width=".8"/>
<path d="M489.8,758.5 L497.5,757.1 L497.5,767.6 L489.4,766.4Z" fill="#ffffff" stroke="#3a2a4a" stroke-width=".8"/>
<path d="M465.4,745.4 L471.6,753.5" fill="none" stroke="#a5604a" stroke-width="0.60" stroke-linecap="butt" stroke-linejoin="round"/>
<path d="M472.4,741.7 L478.7,750.2" fill="none" stroke="#a5604a" stroke-width="0.60" stroke-linecap="butt" stroke-linejoin="round"/>
<path d="M466.1,751.6 L470.5,757.6" fill="none" stroke="#a5604a" stroke-width="0.60" stroke-linecap="butt" stroke-linejoin="round"/>
<path d="M470.9,746.1 L474.2,750.5" fill="none" stroke="#a5604a" stroke-width="0.60" stroke-linecap="butt" stroke-linejoin="round"/>
<circle cx="480.9" cy="761.8" r="9.0" fill="#b5806a"/>
<path d="M473.5,764.6 C474.1,763.7 475.6,760.9 477.2,759.4 C478.8,757.9 481.4,756.2 483.1,755.7 C484.8,755.2 486.8,756.3 487.6,756.5" fill="none" stroke="#c9998a" stroke-width="0.40" stroke-linecap="butt" stroke-linejoin="round"/>
<path d="M479.4,769.8 C480.0,768.7 482.6,765.8 483.1,763.1 C483.7,760.4 482.8,755.1 482.7,753.5" fill="none" stroke="#c9998a" stroke-width="0.40" stroke-linecap="butt" stroke-linejoin="round"/>
<ellipse cx="480.5" cy="770.7" rx="14" ry="2" fill="none" stroke="#e8603a" stroke-width="1"/>
<path d="M467.9,771.3L475.0,784.4M471.1,771.3L476.5,784.4M474.2,771.3L477.9,784.4M477.4,771.3L479.4,784.4M480.5,771.3L480.9,784.4M483.7,771.3L482.4,784.4M486.8,771.3L483.9,784.4M490.0,771.3L485.3,784.4M493.1,771.3L486.8,784.4M469.4,773.5L492.0,773.5M470.5,776.1L490.9,776.1M471.9,778.7L489.4,778.7M473.4,781.2L488.3,781.2M474.6,783.8L487.2,783.8" stroke="#e8603a" stroke-width=".55" fill="none"/>
<rect x="503.0" y="138.0" width="76.0" height="16.0" rx="5.5" fill="#ffffff" fill-opacity=".95"/>
<text x="505.6" y="151.5" font-size="15.8" font-weight="bold" fill="#0e4b49" textLength="70.8" lengthAdjust="spacingAndGlyphs">Saint-Jean</text>
<rect x="500.0" y="157.0" width="85.0" height="16.0" rx="5.5" fill="#ffffff" fill-opacity=".95"/>
<text x="502.6" y="170.5" font-size="15.8" font-weight="bold" fill="#0e4b49" textLength="79.8" lengthAdjust="spacingAndGlyphs">de Liversay</text>
<rect x="633.3" y="297.0" width="56.9" height="14.0" rx="5.5" fill="#ffffff" fill-opacity=".95"/>
<text x="636.4" y="308.8" font-size="13.6" font-weight="bold" fill="#0e4b49" textLength="49.4" lengthAdjust="spacingAndGlyphs">Cramahé</text>
<rect x="771.4" y="306.3" width="63.4" height="17.7" rx="5.5" fill="#ffffff" fill-opacity=".95"/>
<text x="774.0" y="321.3" font-size="15.8" font-weight="bold" fill="#0e4b49" textLength="58.2" lengthAdjust="spacingAndGlyphs">Courçon</text>
<rect x="490.0" y="352.0" width="68.0" height="13.0" rx="5.5" fill="#ffffff" fill-opacity=".95"/>
<text x="492.6" y="363.0" font-size="13.6" font-weight="bold" fill="#0e4b49" textLength="62.8" lengthAdjust="spacingAndGlyphs">Normandie</text>
<rect x="176.0" y="423.0" width="58.0" height="17.0" rx="5.5" fill="#ffffff" fill-opacity=".95"/>
<text x="178.6" y="437.4" font-size="15.8" font-weight="bold" fill="#0e4b49" textLength="52.8" lengthAdjust="spacingAndGlyphs">Nuaillé</text>
<rect x="179.6" y="443.0" width="54.4" height="16.6" rx="5.5" fill="#ffffff" fill-opacity=".95"/>
<text x="182.2" y="457.0" font-size="15.8" font-weight="bold" fill="#0e4b49" textLength="49.2" lengthAdjust="spacingAndGlyphs">d’Aunis</text>
<rect x="392.0" y="425.0" width="61.0" height="13.0" rx="5.5" fill="#ffffff" fill-opacity=".95"/>
<text x="394.6" y="436.0" font-size="12.6" font-weight="bold" fill="#0e4b49" textLength="55.8" lengthAdjust="spacingAndGlyphs">ZA Beaux</text>
<rect x="402.5" y="438.6" width="44.5" height="13.4" rx="5.5" fill="#ffffff" fill-opacity=".95"/>
<text x="405.1" y="449.9" font-size="12.6" font-weight="bold" fill="#0e4b49" textLength="39.3" lengthAdjust="spacingAndGlyphs">Vallons</text>
<rect x="579.0" y="483.0" width="67.0" height="18.0" rx="5.5" fill="#ffffff" fill-opacity=".95"/>
<text x="581.6" y="498.2" font-size="15.8" font-weight="bold" fill="#0e4b49" textLength="61.8" lengthAdjust="spacingAndGlyphs">Ferrières</text>
<rect x="433.7" y="554.0" width="101.3" height="17.0" rx="5.5" fill="#ffffff" fill-opacity=".95"/>
<text x="436.3" y="568.4" font-size="15.8" font-weight="bold" fill="#0e4b49" textLength="96.1" lengthAdjust="spacingAndGlyphs">Saint-Sauveur</text>
<rect x="460.0" y="572.6" width="53.0" height="16.4" rx="5.5" fill="#ffffff" fill-opacity=".95"/>
<text x="462.6" y="586.5" font-size="15.8" font-weight="bold" fill="#0e4b49" textLength="47.8" lengthAdjust="spacingAndGlyphs">d’Aunis</text>
<rect x="763.0" y="637.8" width="43.6" height="13.9" rx="5.5" fill="#ffffff" fill-opacity=".95"/>
<text x="765.6" y="649.5" font-size="12.0" font-weight="bold" fill="#0e4b49" textLength="38.4" lengthAdjust="spacingAndGlyphs">Benon</text>
<rect x="489.5" y="790.7" width="113.5" height="16.3" rx="5.5" fill="#ffffff" fill-opacity=".95"/>
<text x="492.1" y="804.5" font-size="15.8" font-weight="bold" fill="#0e4b49" textLength="108.3" lengthAdjust="spacingAndGlyphs">Le Gué d’Alleré</text>
<path d="M630.2,291.6 C626.6,297 624.6,305 630.2,309 C636,305 634,297 630.2,291.6 Z" fill="#2b7f7c"/>
<path d="M630.3,295.5 V312.6 M630.3,303 l1.6,-2.2" stroke="#1f3a6b" stroke-width=".9" fill="none"/>
<text x="29" y="497.5" font-size="15.8" font-weight="bold" fill="#71889a" textLength="81" lengthAdjust="spacingAndGlyphs">La Rochelle</text>
<text x="896" y="561.5" font-size="15.8" font-weight="bold" fill="#71889a" textLength="36" lengthAdjust="spacingAndGlyphs">Niort</text>
<text x="624" y="864.5" font-size="15.8" font-weight="bold" fill="#c1a686" textLength="61" lengthAdjust="spacingAndGlyphs">Surgères</text>
<path d="M611,836 L621,846 M613,846.3 L621.3,846.3 L621.3,838" fill="none" stroke="#c1a686" stroke-width="2.2"/>
<path d="M805.5,794.2 H832" stroke="#0f9347" stroke-width="4.6" stroke-linecap="round"/>
<text x="842" y="796.6" font-size="15.4" font-weight="bold" fill="#0e4b49" textLength="68" lengthAdjust="spacingAndGlyphs">Itinéraires</text>
<text x="842" y="814.6" font-size="15.4" font-weight="bold" fill="#0e4b49" textLength="61" lengthAdjust="spacingAndGlyphs">cyclables</text>
<text transform="translate(381.0 154.0) rotate(20.0)" x="-9.5" font-size="11.4" font-weight="normal" font-style="normal" fill="#587390" textLength="19.0" lengthAdjust="spacingAndGlyphs">D114</text>
<text transform="translate(519.0 219.0) rotate(33.0)" x="-9.5" font-size="11.4" font-weight="normal" font-style="normal" fill="#587390" textLength="19.0" lengthAdjust="spacingAndGlyphs">D114</text>
<text transform="translate(623.0 257.0) rotate(21.0)" x="-9.5" font-size="11.4" font-weight="normal" font-style="normal" fill="#587390" textLength="19.0" lengthAdjust="spacingAndGlyphs">D114</text>
<text transform="translate(732.0 312.0) rotate(20.0)" x="-9.5" font-size="11.4" font-weight="normal" font-style="normal" fill="#587390" textLength="19.0" lengthAdjust="spacingAndGlyphs">D114</text>
<text transform="translate(897.0 388.0) rotate(27.0)" x="-9.5" font-size="11.4" font-weight="normal" font-style="normal" fill="#587390" textLength="19.0" lengthAdjust="spacingAndGlyphs">D114</text>
<text transform="translate(367.5 325.0) rotate(-58.0)" x="-9.5" font-size="11.4" font-weight="normal" font-style="normal" fill="#587390" textLength="19.0" lengthAdjust="spacingAndGlyphs">D109</text>
<text transform="translate(449.5 353.0) rotate(-90.0)" x="-9.5" font-size="11.4" font-weight="normal" font-style="normal" fill="#587390" textLength="19.0" lengthAdjust="spacingAndGlyphs">D115</text>
<text transform="translate(561.0 279.0) rotate(52.0)" x="-9.5" font-size="11.4" font-weight="normal" font-style="normal" fill="#587390" textLength="19.0" lengthAdjust="spacingAndGlyphs">D262</text>
<text transform="translate(606.0 411.0) rotate(-58.0)" x="-9.5" font-size="11.4" font-weight="normal" font-style="normal" fill="#587390" textLength="19.0" lengthAdjust="spacingAndGlyphs">D206</text>
<text transform="translate(666.0 430.0) rotate(-9.0)" x="-14.2" font-size="11.4" font-weight="normal" font-style="normal" fill="#587390" textLength="28.5" lengthAdjust="spacingAndGlyphs">D116E1</text>
<text transform="translate(282.0 540.0) rotate(19.0)" x="-9.5" font-size="11.4" font-weight="normal" font-style="normal" fill="#587390" textLength="19.0" lengthAdjust="spacingAndGlyphs">D207</text>
<text transform="translate(523.0 608.0) rotate(30.0)" x="-9.5" font-size="11.4" font-weight="normal" font-style="normal" fill="#587390" textLength="19.0" lengthAdjust="spacingAndGlyphs">D207</text>
<text transform="translate(673.0 538.0) rotate(42.0)" x="-9.5" font-size="11.4" font-weight="normal" font-style="normal" fill="#587390" textLength="19.0" lengthAdjust="spacingAndGlyphs">D206</text>
<text transform="translate(388.0 686.0) rotate(-80.0)" x="-14.2" font-size="11.4" font-weight="normal" font-style="normal" fill="#587390" textLength="28.5" lengthAdjust="spacingAndGlyphs">D207E1</text>
<text transform="translate(510.0 668.0) rotate(70.0)" x="-9.5" font-size="11.4" font-weight="normal" font-style="normal" fill="#587390" textLength="19.0" lengthAdjust="spacingAndGlyphs">D115</text>
<text transform="translate(332.0 485.5) rotate(0.0)" x="-7.8" font-size="11.5" font-weight="bold" font-style="normal" fill="#6f8799" textLength="15.5" lengthAdjust="spacingAndGlyphs">N11</text>
<text transform="translate(718.0 526.0) rotate(9.0)" x="-8.0" font-size="11.5" font-weight="bold" font-style="italic" fill="#6f8799" textLength="16.0" lengthAdjust="spacingAndGlyphs">N11</text>
</svg>
</body></html>
